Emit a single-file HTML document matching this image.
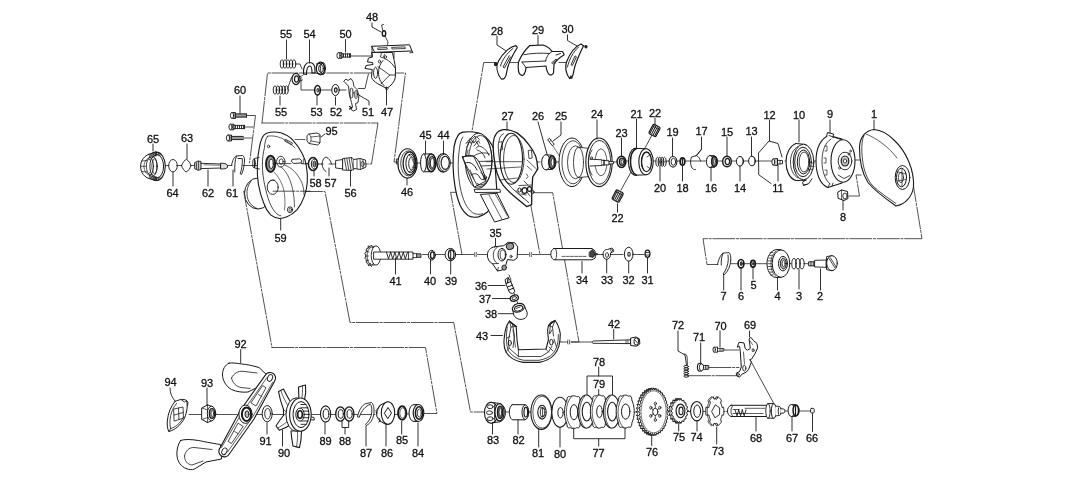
<!DOCTYPE html>
<html><head><meta charset="utf-8"><title>Parts diagram</title>
<style>html,body{margin:0;padding:0;background:#fff}svg{display:block;will-change:transform}
text{font-family:"Liberation Sans",sans-serif;font-size:11.6px;fill:#111;stroke:#111;stroke-width:.3px;text-anchor:middle}</style></head>
<body><svg width="1069" height="490" viewBox="0 0 1069 490" fill="none" stroke="#1a1a1a" stroke-width="1" stroke-linecap="round" stroke-linejoin="round">
<rect x="0" y="0" width="1069" height="490" fill="#fff" stroke="none"/>
<polyline points="262,123 267.5,73 405.5,73 394,162 399,162" stroke-width="0.75" stroke-dasharray="22 1.6 2.2 1.6"/>
<polyline points="262,123 378,123 371.5,164 366,164" stroke-width="0.75" stroke-dasharray="22 1.6 2.2 1.6"/>
<polyline points="247,115.5 255.5,115.5 249.5,163" stroke-width="0.75" stroke-dasharray="22 1.6 2.2 1.6"/>
<polyline points="245,127 253,127" stroke-width="0.75" stroke-dasharray="22 1.6 2.2 1.6"/>
<polyline points="244,138 251.5,138" stroke-width="0.75" stroke-dasharray="22 1.6 2.2 1.6"/>
<polyline points="165,165.5 169,165.5" stroke-width="0.75" stroke-dasharray="22 1.6 2.2 1.6"/>
<polyline points="177,165.5 181.5,165.5" stroke-width="0.75" stroke-dasharray="22 1.6 2.2 1.6"/>
<polyline points="190.5,165.5 195,165.5" stroke-width="0.75" stroke-dasharray="22 1.6 2.2 1.6"/>
<polyline points="227,165.5 232,165.5" stroke-width="0.75" stroke-dasharray="22 1.6 2.2 1.6"/>
<polyline points="243,165.5 262,165.5" stroke-width="0.75" stroke-dasharray="22 1.6 2.2 1.6"/>
<polyline points="276,163.5 308,163.5" stroke-width="0.75" stroke-dasharray="22 1.6 2.2 1.6"/>
<polyline points="318,164 323,164" stroke-width="0.75" stroke-dasharray="22 1.6 2.2 1.6"/>
<polyline points="329,164 336,164" stroke-width="0.75" stroke-dasharray="22 1.6 2.2 1.6"/>
<polyline points="250,191.2 243.7,191.2 272,347.5" stroke-width="0.75" stroke-dasharray="22 1.6 2.2 1.6"/>
<polyline points="273,191.5 325,191.5 350,322.5 453.7,322.5 470.5,412 484,412" stroke-width="0.75" stroke-dasharray="22 1.6 2.2 1.6"/>
<polyline points="272,347.5 425.5,347.5 437,413.5 424.5,413.5" stroke-width="0.75" stroke-dasharray="22 1.6 2.2 1.6"/>
<polyline points="496,62.5 483.7,62.5 470.5,140" stroke-width="0.75" stroke-dasharray="22 1.6 2.2 1.6"/>
<polyline points="510,62.5 520,62.5" stroke-width="0.75" stroke-dasharray="22 1.6 2.2 1.6"/>
<polyline points="559,62.5 568,62.5" stroke-width="0.75" stroke-dasharray="22 1.6 2.2 1.6"/>
<polyline points="461.8,192.3 450.6,192.3 462,254.5" stroke-width="0.75" stroke-dasharray="22 1.6 2.2 1.6"/>
<polyline points="533.6,192.7 552.7,192.7 579,342 571,342" stroke-width="0.75" stroke-dasharray="22 1.6 2.2 1.6"/>
<polyline points="530,201 540,254.5" stroke-width="0.75" stroke-dasharray="22 1.6 2.2 1.6"/>
<polyline points="410,163 420.5,163" stroke-width="0.75" stroke-dasharray="22 1.6 2.2 1.6"/>
<polyline points="436,163 438,163" stroke-width="0.75" stroke-dasharray="22 1.6 2.2 1.6"/>
<polyline points="451,163 456,163" stroke-width="0.75" stroke-dasharray="22 1.6 2.2 1.6"/>
<polyline points="495,162 540,162" stroke-width="0.75" stroke-dasharray="22 1.6 2.2 1.6"/>
<polyline points="556,162 560,162" stroke-width="0.75" stroke-dasharray="22 1.6 2.2 1.6"/>
<polyline points="605,162 617,162" stroke-width="0.75" stroke-dasharray="22 1.6 2.2 1.6"/>
<polyline points="627,161 631,161" stroke-width="0.75" stroke-dasharray="22 1.6 2.2 1.6"/>
<polyline points="652,161 656,161" stroke-width="0.75" stroke-dasharray="22 1.6 2.2 1.6"/>
<polyline points="666,161 669,161" stroke-width="0.75" stroke-dasharray="22 1.6 2.2 1.6"/>
<polyline points="677,161 680,161" stroke-width="0.75" stroke-dasharray="22 1.6 2.2 1.6"/>
<polyline points="685,161 706,161" stroke-width="0.75" stroke-dasharray="22 1.6 2.2 1.6"/>
<polyline points="717,161 722,161" stroke-width="0.75" stroke-dasharray="22 1.6 2.2 1.6"/>
<polyline points="732,161 736,161" stroke-width="0.75" stroke-dasharray="22 1.6 2.2 1.6"/>
<polyline points="744,161 748,161" stroke-width="0.75" stroke-dasharray="22 1.6 2.2 1.6"/>
<polyline points="756,161 773,161" stroke-width="0.75" stroke-dasharray="22 1.6 2.2 1.6"/>
<polyline points="785,161 800,161" stroke-width="0.75" stroke-dasharray="22 1.6 2.2 1.6"/>
<polyline points="812,161 845,161" stroke-width="0.75" stroke-dasharray="22 1.6 2.2 1.6"/>
<polyline points="848,160 862,160" stroke-width="0.75" stroke-dasharray="22 1.6 2.2 1.6"/>
<polyline points="652,135 645,148" stroke-width="0.8"/>
<polyline points="631,172 621,190" stroke-width="0.8"/>
<polyline points="849,196 859.5,196 856,175 861,175" stroke-width="0.75" stroke-dasharray="22 1.6 2.2 1.6"/>
<polyline points="912.5,180 922,238.7 703,238.7 707,264.5 718,264.5" stroke-width="0.75" stroke-dasharray="22 1.6 2.2 1.6"/>
<polyline points="731,263.7 738,263.7" stroke-width="0.75" stroke-dasharray="22 1.6 2.2 1.6"/>
<polyline points="744,263.7 750.5,263.7" stroke-width="0.75" stroke-dasharray="22 1.6 2.2 1.6"/>
<polyline points="755.5,263.7 768,263.7" stroke-width="0.75" stroke-dasharray="22 1.6 2.2 1.6"/>
<polyline points="786,263.7 791,263.7" stroke-width="0.75" stroke-dasharray="22 1.6 2.2 1.6"/>
<polyline points="805,263.7 810,263.7" stroke-width="0.75" stroke-dasharray="22 1.6 2.2 1.6"/>
<polyline points="422.5,254.5 429.5,254.5" stroke-width="0.75" stroke-dasharray="22 1.6 2.2 1.6"/>
<polyline points="435.5,254.5 445,254.5" stroke-width="0.75" stroke-dasharray="22 1.6 2.2 1.6"/>
<polyline points="455,254.5 473.5,254.5" stroke-width="0.75" stroke-dasharray="22 1.6 2.2 1.6"/>
<polyline points="477.5,254.5 488,254.5" stroke-width="0.75" stroke-dasharray="22 1.6 2.2 1.6"/>
<polyline points="512,254.5 528.5,254.5" stroke-width="0.75" stroke-dasharray="22 1.6 2.2 1.6"/>
<polyline points="532.5,254.5 551,254.5" stroke-width="0.75" stroke-dasharray="22 1.6 2.2 1.6"/>
<polyline points="595,254.5 603,254.5" stroke-width="0.75" stroke-dasharray="22 1.6 2.2 1.6"/>
<polyline points="611,254.5 623,254.5" stroke-width="0.75" stroke-dasharray="22 1.6 2.2 1.6"/>
<polyline points="632,254.5 644,254.5" stroke-width="0.75" stroke-dasharray="22 1.6 2.2 1.6"/>
<path d="M474.7,252.5 q-1,2 0,4 M476.5,252.5 q-1,2 0,4" stroke-width="0.7"/>
<path d="M529.7,252.5 q-1,2 0,4 M531.5,252.5 q-1,2 0,4" stroke-width="0.7"/>
<polyline points="509,275 511,280" stroke-width="0.8"/>
<polyline points="514,293 515,295.5" stroke-width="0.8"/>
<polyline points="516.5,300 518.5,305" stroke-width="0.8"/>
<polyline points="551,342 566.5,342" stroke-width="0.75" stroke-dasharray="22 1.6 2.2 1.6"/>
<path d="M567.8,340 q-1,2 0,4 M569.6,340 q-1,2 0,4" stroke-width="0.7"/>
<polyline points="592.5,342 571,342" stroke-width="0.75" stroke-dasharray="22 1.6 2.2 1.6"/>
<polyline points="724,350 739,350" stroke-width="0.75" stroke-dasharray="22 1.6 2.2 1.6"/>
<polyline points="709,367.5 739,367.5" stroke-width="0.75" stroke-dasharray="22 1.6 2.2 1.6"/>
<polyline points="688.5,375.7 736,375.7" stroke-width="0.75" stroke-dasharray="22 1.6 2.2 1.6"/>
<polyline points="749.5,358.7 776,407.5" stroke-width="0.8"/>
<polyline points="506,412 510,412" stroke-width="0.75" stroke-dasharray="22 1.6 2.2 1.6"/>
<polyline points="529,412 545,412" stroke-width="0.75" stroke-dasharray="22 1.6 2.2 1.6"/>
<polyline points="630,412 665,412" stroke-width="0.75" stroke-dasharray="22 1.6 2.2 1.6"/>
<polyline points="686,411.5 691,411.5" stroke-width="0.75" stroke-dasharray="22 1.6 2.2 1.6"/>
<polyline points="703,411.5 728,411.5" stroke-width="0.75" stroke-dasharray="22 1.6 2.2 1.6"/>
<polyline points="785,411 789,411" stroke-width="0.75" stroke-dasharray="22 1.6 2.2 1.6"/>
<polyline points="800,411 811,411" stroke-width="0.75" stroke-dasharray="22 1.6 2.2 1.6"/>
<polyline points="189,414.5 202,414.5" stroke-width="0.75" stroke-dasharray="22 1.6 2.2 1.6"/>
<polyline points="215,414.5 262,414.5" stroke-width="0.75" stroke-dasharray="22 1.6 2.2 1.6"/>
<polyline points="272,414.5 290,414.5" stroke-width="0.75" stroke-dasharray="22 1.6 2.2 1.6"/>
<polyline points="311,414.5 320,414.5" stroke-width="0.75" stroke-dasharray="22 1.6 2.2 1.6"/>
<polyline points="331,414.5 336,414.5" stroke-width="0.75" stroke-dasharray="22 1.6 2.2 1.6"/>
<polyline points="353,414.5 376,414.5" stroke-width="0.75" stroke-dasharray="22 1.6 2.2 1.6"/>
<polyline points="394,414.5 397.5,414.5" stroke-width="0.75" stroke-dasharray="22 1.6 2.2 1.6"/>
<polyline points="406,414 412,414" stroke-width="0.75" stroke-dasharray="22 1.6 2.2 1.6"/>
<ellipse cx="282" cy="64" rx="1.8" ry="4.3" stroke-width="0.9"/>
<ellipse cx="285" cy="64" rx="1.8" ry="4.3" stroke-width="0.9"/>
<ellipse cx="288" cy="64" rx="1.8" ry="4.3" stroke-width="0.9"/>
<ellipse cx="291" cy="64" rx="1.8" ry="4.3" stroke-width="0.9"/>
<ellipse cx="294" cy="64" rx="1.8" ry="4.3" stroke-width="0.9"/>
<polyline points="296,64 300,64 302,69" stroke-width="0.8"/>
<ellipse cx="275" cy="90" rx="1.8" ry="4.2" stroke-width="0.9"/>
<ellipse cx="277.9" cy="90" rx="1.8" ry="4.2" stroke-width="0.9"/>
<ellipse cx="280.8" cy="90" rx="1.8" ry="4.2" stroke-width="0.9"/>
<ellipse cx="283.6" cy="90" rx="1.8" ry="4.2" stroke-width="0.9"/>
<ellipse cx="286.5" cy="90" rx="1.8" ry="4.2" stroke-width="0.9"/>
<polyline points="291.5,77.5 287.5,89" stroke-width="0.8"/>
<ellipse cx="296" cy="79" rx="4" ry="5.6" stroke-width="1.2" fill="#fff"/>
<ellipse cx="296.5" cy="79" rx="2" ry="3.2" stroke-width="1.2"/>
<path d="M299.5,77 l3,-1.5 M299.5,81 l3,-1" stroke-width="0.8"/>
<path d="M303.5,74 C303,66 306,62.5 309.5,62.5 C313,62.5 315,65 315,70 L315,73 M306.5,74.5 C306.5,68.5 308,66 310,66 C311.5,66 312,68 312,73" stroke-width="1.1"/>
<path d="M303.5,74 l3,.5 M312,73 l3,0"/>
<ellipse cx="320.5" cy="68.5" rx="4.2" ry="6.3" stroke-width="1.2" fill="#fff"/>
<ellipse cx="321" cy="68.5" rx="2.3" ry="4"/>
<path d="M316.5,64 l6,-1 M317,73.5 l6,0.8"/>
<ellipse cx="323" cy="68.5" rx="2.5" ry="6" stroke-width="0.9"/>
<polyline points="301,77.5 301,90 313.7,90" stroke-width="0.8"/>
<polyline points="321,90 331.5,90" stroke-width="0.8"/>
<polyline points="339.5,90 346,90" stroke-width="0.8"/>
<polyline points="358.3,88.5 365,88.5 368.4,74" stroke-width="0.8"/>
<ellipse cx="317.5" cy="90.3" rx="2.8" ry="4.8" stroke-width="1.6" fill="#fff"/>
<ellipse cx="318" cy="90.3" rx="1" ry="2"/>
<ellipse cx="335.5" cy="90" rx="3.7" ry="5.6" fill="#fff"/>
<ellipse cx="335.8" cy="90" rx="1.3" ry="2.2" stroke-width="1.2"/>
<path d="M344,81 l2,-2 l2,1.5 l3,-2 l2,3 l1,5 l3,3 l2,6 l-1,7 l-2.5,1 l1,6 l-3,1.5 l-2.5,-1.5 l1.5,-2.5 l-1,-4.5 l-2,-7 l-1,-9 z" stroke-width="0.9" fill="#fff"/>
<ellipse cx="351.5" cy="93" rx="1.6" ry="5.2" stroke-width="0.9"/>
<ellipse cx="356" cy="94.5" rx="1.3" ry="4.2" stroke-width="0.9"/>
<path d="M349.5,106.5 l2,1 l-2,1.5" stroke-width="1.2"/>
<path d="M338.5,52.7 h3.5 v5.6 h-3.5 z" stroke-width="0.9" fill="#999"/>
<ellipse cx="338.5" cy="55.5" rx="1.6" ry="2.8" stroke-width="0.9" fill="#fff"/>
<path d="M342,53.9 h8.5 M342,57.1 h8.5" stroke-width="0.9"/>
<line x1="343.5" y1="53.9" x2="343.5" y2="57.1" stroke-width="0.9"/>
<line x1="345.5" y1="53.9" x2="345.5" y2="57.1" stroke-width="0.9"/>
<line x1="347.5" y1="53.9" x2="347.5" y2="57.1" stroke-width="0.9"/>
<line x1="349.5" y1="53.9" x2="349.5" y2="57.1" stroke-width="0.9"/>
<line x1="350.5" y1="53.9" x2="350.5" y2="57.1" stroke-width="0.9"/>
<polyline points="351,56 372,56" stroke-width="0.8"/>
<ellipse cx="384" cy="33.5" rx="1.7" ry="2.8" stroke-width="1.4"/>
<path d="M383,31 L381.5,25 L383.5,24.5 M385,36 L388,42 L387.5,45" stroke-width="0.8"/>
<path d="M372,57 L368.4,58.2 L367.5,62 L372.5,62.5 L373,64.5 L366,65.5 L365,68.5 L372.2,69.5 L371.5,77.3 C373,80.5 375,82 377.4,83.5 L386.4,88.3 C391,86 394.5,82 395.3,77.3 L395.5,68.3 C395,63 393.5,58 392.5,52.5 L372,52.5 Z" fill="#fff"/>
<path d="M384,58.5 C388,59.5 392,63 395.3,68.3 M383,60.5 C380,63.5 378.5,68 378.5,73 C378.5,78 380.5,82.5 384,85.5" stroke-width="0.9"/>
<path d="M377.8,66.5 L389.7,75 L381,84 M389.7,75 L395.5,75" stroke-width="0.8"/>
<path d="M394,52.5 L394,58 M381.5,52.5 l-1,4.5 l2.5,1 l1.5,-3.5" stroke-width="0.8"/>
<ellipse cx="375.6" cy="72.8" rx="2" ry="5.6" stroke-width="0.9" fill="#fff"/>
<ellipse cx="379.5" cy="61.5" rx="1.1" ry="1.5" stroke-width="0.8"/>
<ellipse cx="385.5" cy="57" rx="1.1" ry="1.4" stroke-width="0.8"/>
<path d="M372,46.3 L409.5,44.8 L412,51 L375,52.3 Z" fill="#fff"/>
<path d="M378,48 l9,-.4 l.3,1.6 l-9,.4 z M392,47.4 l13,-.5 l.4,1.6 l-13,.5 z" stroke-width="0.8"/>
<path d="M412,51 l1,1.5 l-3,.3 M372,46.3 L372,57" stroke-width="0.9"/>
<path d="M385.5,87.5 l1,3 l2,-2.5" stroke-width="0.8"/>
<ellipse cx="156.3" cy="166.3" rx="9" ry="14.2" stroke-width="1.1" fill="#fff"/>
<path d="M149.6,154 C144.5,155.5 140.6,160.5 140.6,166.3 C140.6,172.5 144.5,177.5 149.6,178.7 L156,180.4 L156,152.2 Z" fill="#fff"/>
<ellipse cx="157" cy="166.3" rx="6.6" ry="11.6" fill="#fff"/>
<line x1="148.5" y1="159.2" x2="151.1" y2="160.4" stroke-width="0.8"/>
<line x1="149.6" y1="156.8" x2="151.9" y2="158.4" stroke-width="0.8"/>
<line x1="151" y1="154.8" x2="153" y2="156.8" stroke-width="0.8"/>
<line x1="152.6" y1="153.3" x2="154.2" y2="155.5" stroke-width="0.8"/>
<line x1="154.4" y1="152.4" x2="155.6" y2="154.8" stroke-width="0.8"/>
<line x1="156.3" y1="152.1" x2="157" y2="154.5" stroke-width="0.8"/>
<line x1="158.2" y1="152.4" x2="158.4" y2="154.8" stroke-width="0.8"/>
<line x1="160" y1="153.3" x2="159.8" y2="155.5" stroke-width="0.8"/>
<line x1="160" y1="179.3" x2="159.8" y2="177.1" stroke-width="0.8"/>
<line x1="158.2" y1="180.2" x2="158.4" y2="177.8" stroke-width="0.8"/>
<line x1="156.3" y1="180.5" x2="157" y2="178.1" stroke-width="0.8"/>
<line x1="154.4" y1="180.2" x2="155.6" y2="177.8" stroke-width="0.8"/>
<line x1="152.6" y1="179.3" x2="154.2" y2="177.1" stroke-width="0.8"/>
<line x1="151" y1="177.8" x2="153" y2="175.8" stroke-width="0.8"/>
<line x1="149.6" y1="175.8" x2="151.9" y2="174.2" stroke-width="0.8"/>
<line x1="148.5" y1="173.4" x2="151.1" y2="172.2" stroke-width="0.8"/>
<line x1="149.2" y1="154.2" x2="149.5" y2="157.3" stroke-width="0.6"/>
<line x1="149.2" y1="178.5" x2="149.5" y2="175.4" stroke-width="0.6"/>
<line x1="150.2" y1="153.9" x2="150.5" y2="157.1" stroke-width="0.6"/>
<line x1="150.2" y1="178.8" x2="150.5" y2="175.6" stroke-width="0.6"/>
<line x1="151.2" y1="153.7" x2="151.5" y2="156.9" stroke-width="0.6"/>
<line x1="151.2" y1="179" x2="151.5" y2="175.8" stroke-width="0.6"/>
<line x1="152.2" y1="153.4" x2="152.5" y2="156.7" stroke-width="0.6"/>
<line x1="152.2" y1="179.2" x2="152.5" y2="176" stroke-width="0.6"/>
<line x1="153.2" y1="153.2" x2="153.5" y2="156.5" stroke-width="0.6"/>
<line x1="153.2" y1="179.5" x2="153.5" y2="176.2" stroke-width="0.6"/>
<line x1="154.2" y1="152.9" x2="154.5" y2="156.3" stroke-width="0.6"/>
<line x1="154.2" y1="179.8" x2="154.5" y2="176.4" stroke-width="0.6"/>
<line x1="155.2" y1="152.7" x2="155.5" y2="156.1" stroke-width="0.6"/>
<line x1="155.2" y1="180" x2="155.5" y2="176.6" stroke-width="0.6"/>
<line x1="156.2" y1="152.4" x2="156.5" y2="155.9" stroke-width="0.6"/>
<line x1="156.2" y1="180.2" x2="156.5" y2="176.8" stroke-width="0.6"/>
<path d="M149.8,157.3 C146,159 144,162.5 144,166.3 C144,170.5 146,174 149.8,175.5 M142,161 l5,-.5 M141,166.3 l5,0 M142,171.5 l5,.5" stroke-width="0.7"/>
<ellipse cx="153.5" cy="166.3" rx="3.6" ry="9.2" stroke-width="0.9" fill="#fff"/>
<ellipse cx="154.5" cy="166.3" rx="2.6" ry="7.4" stroke-width="0.8"/>
<ellipse cx="150" cy="166.3" rx="3.6" ry="8.6" stroke-width="0.8"/>
<ellipse cx="173" cy="165.7" rx="4.3" ry="6.2" stroke-width="0.9"/>
<path d="M181.5,165.7 C183,162 184.5,160 186.5,159.5 C189,161 190.5,163.5 191,165.7 C190,168.5 188.5,171 186,172 C184,170.5 182.5,168.5 181.5,165.7 Z" stroke-width="0.9"/>
<path d="M195,162.5 l3,-1.5 l3,.5 l0,8 l-3,.8 l-3,-1.5 z" stroke-width="0.9" fill="#ccc"/>
<path d="M196.5,163 l0,6 M198.5,161.5 l0,8" stroke-width="0.7"/>
<path d="M201,163.3 L221,164 L221,168 L201,168.6" stroke-width="0.9"/>
<path d="M204,164.8 L220,165.3" stroke-width="0.6"/>
<path d="M221,163.2 l4,.3 l2.5,1.5 l0,2.5 l-2.5,1.3 l-4,0.2 z" stroke-width="0.9" fill="#ddd"/>
<path d="M231.5,165.5 C232.5,160.5 234,157 236.5,156 L242.5,155.5 C244,156 244.5,158 244.5,160 M236.5,156 C235,160 234.5,166 234.8,172 M244.5,160 C244.5,165 243.5,170 241.5,174.5 L240.2,173.8 C241.8,169.5 242.5,164 242.3,158.5 L238,158.5" stroke-width="0.9"/>
<path d="M232,112.5 h3.5 v6 h-3.5 z" stroke-width="0.9" fill="#999"/>
<ellipse cx="232" cy="115.5" rx="1.6" ry="3" stroke-width="0.9" fill="#fff"/>
<path d="M235.5,113.9 h11 M235.5,117.1 h11" stroke-width="0.9"/>
<line x1="237" y1="113.9" x2="237" y2="117.1" stroke-width="0.9"/>
<line x1="239" y1="113.9" x2="239" y2="117.1" stroke-width="0.9"/>
<line x1="241" y1="113.9" x2="241" y2="117.1" stroke-width="0.9"/>
<line x1="243" y1="113.9" x2="243" y2="117.1" stroke-width="0.9"/>
<line x1="245" y1="113.9" x2="245" y2="117.1" stroke-width="0.9"/>
<line x1="246.5" y1="113.9" x2="246.5" y2="117.1" stroke-width="0.9"/>
<path d="M230.5,124.2 h3.5 v5.6 h-3.5 z" stroke-width="0.9" fill="#999"/>
<ellipse cx="230.5" cy="127" rx="1.6" ry="2.8" stroke-width="0.9" fill="#fff"/>
<path d="M234,125.4 h10.5 M234,128.6 h10.5" stroke-width="0.9"/>
<line x1="235.5" y1="125.4" x2="235.5" y2="128.6" stroke-width="0.9"/>
<line x1="237.5" y1="125.4" x2="237.5" y2="128.6" stroke-width="0.9"/>
<line x1="239.5" y1="125.4" x2="239.5" y2="128.6" stroke-width="0.9"/>
<line x1="241.5" y1="125.4" x2="241.5" y2="128.6" stroke-width="0.9"/>
<line x1="243.5" y1="125.4" x2="243.5" y2="128.6" stroke-width="0.9"/>
<line x1="244.5" y1="125.4" x2="244.5" y2="128.6" stroke-width="0.9"/>
<path d="M228,135 h3.5 v6 h-3.5 z" stroke-width="0.9" fill="#999"/>
<ellipse cx="228" cy="138" rx="1.6" ry="3" stroke-width="0.9" fill="#fff"/>
<path d="M231.5,136.4 h11.5 M231.5,139.6 h11.5" stroke-width="0.9"/>
<line x1="233" y1="136.4" x2="233" y2="139.6" stroke-width="0.9"/>
<line x1="235" y1="136.4" x2="235" y2="139.6" stroke-width="0.9"/>
<line x1="237" y1="136.4" x2="237" y2="139.6" stroke-width="0.9"/>
<line x1="239" y1="136.4" x2="239" y2="139.6" stroke-width="0.9"/>
<line x1="241" y1="136.4" x2="241" y2="139.6" stroke-width="0.9"/>
<line x1="243" y1="136.4" x2="243" y2="139.6" stroke-width="0.9"/>
<ellipse cx="258" cy="193.5" rx="13.5" ry="15.5" fill="#fff"/>
<path d="M251,181 C248,185 246.5,190 247,195 C247.5,201 251,206 257,208.5" stroke-width="0.8"/>
<path d="M266.5,133.2 C272,131.5 277,131.8 280.8,132.8 C286,134.5 290,137 293,140.3 C297,144.5 300,149 302.2,153.6 C304.5,158 305.8,162 306.3,165.8 C307.3,171 307.6,177 307.3,182.1 C307,187 305.8,192 304.3,196.4 C302.5,201.5 300,206 297.1,209.7 C294,213 290.5,215.5 287,216.8 C284.5,217.8 282,218.5 279.8,218.5 C276,218 273,216.8 270.6,214.8 C267.5,211.5 265,207 263.5,202.5 C261,196.5 259.5,190.5 258.4,184.2 C257.5,178 257.1,172 257.3,165.8 C257.5,159.5 258.2,153 259.4,147.4 C260,143.5 261,140 262.4,137.2 C263.5,135 265,133.8 266.5,133.2 Z" stroke-width="1.1" fill="#fff"/>
<path d="M267.5,136.2 C265.5,139 264.8,143 264.5,147.4 C263,153.5 262.3,159.5 262.4,165.8 C262.5,172 263.2,178 264.5,184.2 C265.8,190.5 267.5,197 269.6,202.5 C271.3,206.5 273.3,210 275.7,212.8 C277.3,214.5 279,215.5 280.8,215.8" stroke-width="0.8"/>
<path d="M267.5,136.2 C276,134.5 287,139 295,148" stroke-width="0.7"/>
<ellipse cx="270.6" cy="163.8" rx="4.6" ry="8.2" stroke-width="1.9" fill="#999"/>
<ellipse cx="271.2" cy="163.8" rx="2.1" ry="4.6" fill="#fff"/>
<ellipse cx="280.8" cy="161.7" rx="4.2" ry="5.4" stroke-width="0.9" fill="#fff"/>
<ellipse cx="281.2" cy="161.7" rx="2" ry="2.8" stroke-width="0.8"/>
<path d="M292.5,159.3 l7,-.4 l2,1.5 l-.3,2.5 l-7.5,.6 l-2,-1.8 z" stroke-width="0.9" fill="#fff"/>
<path d="M301.3,163.5 l2,0 l0,-4.5" stroke-width="0.7"/>
<ellipse cx="272.7" cy="187.2" rx="5.5" ry="7.2" stroke-width="0.9"/>
<path d="M268.5,183 C269.5,180.5 272,179.5 274.5,180.3" stroke-width="0.7"/>
<path d="M280.8,166.5 C286,171 290,178 292,186.5 C293.8,194 294.5,201 294.5,207" stroke-width="0.7"/>
<path d="M284.5,165 C292,167.5 298,174 302,183 C303.5,187 304,191 304,195" stroke-width="0.7"/>
<path d="M274,172 C278,176 281,181 283,187 C285,194 285.5,202 284.5,210" stroke-width="0.6"/>
<path d="M286,139.5 l6.5,3.5 l-1,1.8 l-6.5,-3.5 z" stroke-width="0.8"/>
<ellipse cx="268.6" cy="146.4" rx="1.2" ry="1.4" stroke-width="0.8"/>
<ellipse cx="290" cy="209.7" rx="2.6" ry="2.9" stroke-width="0.9"/>
<ellipse cx="290.3" cy="209.7" rx="1.2" ry="1.5" stroke-width="0.7"/>
<path d="M259,157.5 l-4.5,1 l0,9.5 l5,1" stroke-width="0.9"/>
<ellipse cx="254" cy="163.3" rx="1.3" ry="4.6" stroke-width="0.9"/>
<path d="M309,134 L317,133 L320,134.5 L320,143 L317.5,145 L309,143.5 L307,141 L307,136 Z" stroke-width="0.9" fill="#fff"/>
<path d="M309,134 L311,137 L311,141 L309,143.5 M311,137 L320,136 M311,141 L319.5,142.5" stroke-width="0.7"/>
<polyline points="305,139.5 295,139.5" stroke-width="0.7"/>
<ellipse cx="313" cy="164" rx="4.6" ry="6.4" stroke-width="1.5" fill="#fff"/>
<ellipse cx="314.5" cy="164" rx="3.2" ry="5"/>
<ellipse cx="314.5" cy="164" rx="1.6" ry="3" stroke-width="0.8" fill="#888"/>
<path d="M322,164 C322.5,160 324,157.5 326,157 C329,158.5 331,161 331.5,164 M322,164 C322.5,168 324,170.5 326,171.5" stroke-width="0.9"/>
<path d="M336,160.5 L343,159.5 L343,169 L336,168 Z" stroke-width="0.9" fill="#fff"/>
<path d="M343,158.5 L352,157.5 L354,160 L354,168.5 L352,170.5 L343,170 Z" stroke-width="0.9" fill="#fff"/>
<line x1="344.5" y1="158.8" x2="346.5" y2="170" stroke-width="0.8"/>
<line x1="346.8" y1="158.6" x2="348.8" y2="170" stroke-width="0.8"/>
<line x1="349.1" y1="158.4" x2="351.1" y2="170" stroke-width="0.8"/>
<line x1="351.4" y1="158.2" x2="353.4" y2="170" stroke-width="0.8"/>
<path d="M354,159.5 L360,158.5 L365.5,160 L366,167 L360.5,169.5 L354,168.5" stroke-width="0.9" fill="#fff"/>
<path d="M357,159 l0,10 M360,158.5 l.5,11 M363,159.5 l0,9" stroke-width="0.7"/>
<ellipse cx="362.5" cy="164" rx="1.7" ry="2.6" stroke-width="0.8"/>
<ellipse cx="407.5" cy="163.4" rx="9.6" ry="14.7" stroke-width="1.1" fill="#fff"/>
<ellipse cx="408.5" cy="163.4" rx="7.8" ry="12.6" stroke-width="0.8"/>
<ellipse cx="409.5" cy="163.4" rx="6.4" ry="11.5" stroke-width="1.3" fill="#fff"/>
<ellipse cx="410.5" cy="163.4" rx="4.6" ry="9.2"/>
<ellipse cx="411.5" cy="163.6" rx="2.8" ry="6.4" stroke-width="0.9"/>
<path d="M409,155 l3,2 M409,172 l3,-2 M412,159 l2,4 M412,168 l2,-3" stroke-width="0.7"/>
<path d="M398,159 l-1.6,0 l0,5 l1.6,0" stroke-width="0.9"/>
<path d="M423.5,154 L431.3,153.9 C434,155 436,158.5 436,162.8 C436,167 434,170.8 431.3,171.7 L423.5,171.8" fill="#fff"/>
<ellipse cx="423.5" cy="162.9" rx="2.9" ry="8.9" fill="#fff"/>
<ellipse cx="431.3" cy="162.8" rx="4.5" ry="8.8" stroke-width="1.6" fill="#fff"/>
<ellipse cx="431.8" cy="162.8" rx="3" ry="6.6" fill="#999"/>
<ellipse cx="432.3" cy="163" rx="2" ry="4.8" stroke-width="0.9" fill="#fff"/>
<ellipse cx="443.2" cy="162.8" rx="6.3" ry="9.2" stroke-width="1.3" fill="#fff"/>
<ellipse cx="444.6" cy="162.8" rx="5.8" ry="8.6" stroke-width="0.9" fill="#fff"/>
<ellipse cx="445.2" cy="162.8" rx="4.1" ry="6.6" stroke-width="1.1" fill="#fff"/>
<path d="M546,154.8 L552,155.2 C554.5,156.5 556,159 556,162.2 C556,165.5 554.5,168.5 552,169.3 L546,169.8" fill="#fff"/>
<ellipse cx="546" cy="162.3" rx="4.3" ry="7.6" fill="#fff"/>
<ellipse cx="552" cy="162.3" rx="3.2" ry="6.6" stroke-width="1.6" fill="#777"/>
<ellipse cx="552.6" cy="162.3" rx="1.5" ry="3.6" stroke-width="0.8" fill="#fff"/>
<path d="M548,139.5 l1.6,-1.2 l4.6,6 l-1.6,1.2 z" stroke-width="0.9" fill="#fff"/>
<line x1="549.5" y1="141.5" x2="551" y2="140.3" stroke-width="0.6"/>
<polyline points="553,146 560,157" stroke-width="0.6"/>
<ellipse cx="572" cy="162.3" rx="13" ry="24.3" fill="#fff"/>
<ellipse cx="573" cy="162.3" rx="11" ry="21.5" stroke-width="0.8"/>
<ellipse cx="575.5" cy="162.3" rx="8" ry="16.5" stroke-width="0.8"/>
<path d="M578,147.3 L591,148.5 L591,176.5 L578,177.5" stroke-width="0.8" fill="#fff"/>
<ellipse cx="578.5" cy="162.3" rx="5" ry="15" stroke-width="0.8"/>
<ellipse cx="599" cy="162.3" rx="13.2" ry="24.3" stroke-width="1.1" fill="#fff"/>
<ellipse cx="599.5" cy="162.3" rx="11.2" ry="21.8" stroke-width="0.9"/>
<path d="M592,150 C589.5,154 588.5,158 588.5,162.3 C588.5,167 589.5,171 592,175" stroke-width="0.8"/>
<ellipse cx="601" cy="162.3" rx="6" ry="13.5" stroke-width="0.7"/>
<path d="M590,159.2 L602,159.8 L602,165.5 L590,166" stroke-width="0.9" fill="#fff"/>
<path d="M602,160.3 L609,160.8 L609,164.8 L602,165 M609,161.5 L613.5,161.7 L613.5,163.8 L609,164" stroke-width="0.9" fill="#fff"/>
<ellipse cx="591.5" cy="158" rx="1" ry="1.2" stroke-width="0.8"/>
<line x1="604" y1="160.3" x2="604" y2="165" stroke-width="1.4"/>
<ellipse cx="621.5" cy="161.8" rx="4.4" ry="5.6" stroke-width="1.5" fill="#fff"/>
<ellipse cx="622" cy="161.8" rx="2.6" ry="3.6" stroke-width="1.2" fill="#aaa"/>
<ellipse cx="622.3" cy="161.8" rx="1.2" ry="2" stroke-width="0.7" fill="#fff"/>
<path d="M634.5,148.3 L646,148.8 L646,174.8 L634.5,175.3 C631,174 628.5,168.5 628.5,161.8 C628.5,155 631,149.5 634.5,148.3 Z" stroke-width="1.1" fill="#fff"/>
<path d="M636.5,148.5 C633,150 630.5,155 630.5,161.8 C630.5,168.5 633,174 636.5,175.2" stroke-width="1.5"/>
<ellipse cx="646" cy="161.8" rx="7.2" ry="13" stroke-width="1.1" fill="#fff"/>
<ellipse cx="646.5" cy="161.8" rx="5" ry="9.8" stroke-width="1.3"/>
<path d="M644,153 C642,156 641.5,159 641.5,161.8 C641.5,165 642.3,168 644,170.5" stroke-width="0.8"/>
<path d="M647,157 l3.5,-2.5 M647,166.5 l3.5,2.5" stroke-width="0.7"/>
<g transform="rotate(28 654.5 130.5)">
<rect x="650.5" y="125.2" width="8" height="10.5" rx="1.5" fill="#fff" stroke-width="1.2"/>
<line x1="651.8" y1="126.2" x2="651.8" y2="134.8"/>
<line x1="653.6" y1="126.2" x2="653.6" y2="134.8"/>
<line x1="655.4" y1="126.2" x2="655.4" y2="134.8"/>
<line x1="657.2" y1="126.2" x2="657.2" y2="134.8"/>
<line x1="650.5" y1="127.5" x2="658.5" y2="127.5" stroke-width="0.7"/>
</g>
<g transform="rotate(28 617.7 196)">
<rect x="613.7" y="190.8" width="8" height="10.5" rx="1.5" fill="#fff" stroke-width="1.2"/>
<line x1="615" y1="191.8" x2="615" y2="200.2"/>
<line x1="616.8" y1="191.8" x2="616.8" y2="200.2"/>
<line x1="618.6" y1="191.8" x2="618.6" y2="200.2"/>
<line x1="620.4" y1="191.8" x2="620.4" y2="200.2"/>
<line x1="613.7" y1="192.9" x2="621.7" y2="192.9" stroke-width="0.7"/>
</g>
<ellipse cx="657.5" cy="161.8" rx="1.7" ry="4.6" stroke-width="0.9"/>
<ellipse cx="659.8" cy="161.8" rx="1.7" ry="4.6" stroke-width="0.9"/>
<ellipse cx="662.2" cy="161.8" rx="1.7" ry="4.6" stroke-width="0.9"/>
<ellipse cx="664.5" cy="161.8" rx="1.7" ry="4.6" stroke-width="0.9"/>
<ellipse cx="673" cy="161.8" rx="3.9" ry="5.3" stroke-width="1.1" fill="#fff"/>
<ellipse cx="673.4" cy="161.8" rx="2.3" ry="3.5" stroke-width="0.9"/>
<ellipse cx="682.5" cy="161.5" rx="2.3" ry="3.6" stroke-width="1.8" fill="#fff"/>
<line x1="682.5" y1="159.5" x2="682.5" y2="163.5"/>
<path d="M701.5,149.5 L696.5,155.5 L691.5,157 C690.3,160 690.3,164 691.5,167 C692.5,169 694,170 695.5,169.5 M696.5,155.5 C698.5,156.5 700,158.5 700.5,161" stroke-width="0.9"/>
<path d="M710,155.5 L714.5,155.8 C716.5,157 717.5,159 717.5,161.5 C717.5,164 716.5,166.3 714.5,167.2 L710,167.5" fill="#fff"/>
<ellipse cx="710" cy="161.5" rx="3.6" ry="6" fill="#fff"/>
<ellipse cx="714.3" cy="161.5" rx="2.6" ry="5" stroke-width="1.5" fill="#888"/>
<ellipse cx="714.8" cy="161.5" rx="1" ry="2.5" stroke-width="0.7" fill="#fff"/>
<ellipse cx="727" cy="161.5" rx="4.3" ry="5.3" stroke-width="1.5" fill="#fff"/>
<ellipse cx="727.4" cy="161.5" rx="2.2" ry="3.2" stroke-width="1.2"/>
<ellipse cx="740" cy="161.3" rx="3.6" ry="4.8" fill="#fff"/>
<path d="M741.5,157 C743.5,158.5 743.5,164 741.5,165.6" stroke-width="0.8"/>
<ellipse cx="752" cy="161" rx="3.4" ry="4.8" fill="#fff"/>
<path d="M753.5,156.8 C755.5,158.5 755.5,163.5 753.5,165.3" stroke-width="0.8"/>
<polyline points="782,157 778,143.5 769,141 758.5,153 758.7,174.7 771,183.5" stroke-width="0.9"/>
<path d="M773,159 l4.5,-.5 l0,7 l-4.5,-.5 z" fill="#ccc"/>
<ellipse cx="773.3" cy="162" rx="1.4" ry="3" stroke-width="0.9" fill="#fff"/>
<path d="M777.5,160.3 l5,.2 l0,3.3 l-5,.2" stroke-width="0.9"/>
<line x1="780" y1="160.5" x2="780" y2="163.8" stroke-width="0.7"/>
<path d="M796,143.5 C790,146 786,153 786,162 C786,171 789.5,178.5 796,180.5 L806,180.3" stroke-width="1.1" fill="#fff"/>
<path d="M796,143.5 L806,144.5"/>
<ellipse cx="803.5" cy="162" rx="10.3" ry="17.8" fill="#fff"/>
<ellipse cx="803" cy="162" rx="8.3" ry="14.8"/>
<ellipse cx="803.5" cy="162" rx="6.2" ry="12"/>
<ellipse cx="804" cy="162" rx="4.8" ry="10" stroke-width="0.8"/>
<path d="M798,146.5 C793,149 790.5,155 790.5,162 C790.5,169 793,175.5 798,178" stroke-width="0.8"/>
<path d="M806,179.8 l-3.5,2.5 l1,3 l3.5,-1 M803.5,185.3 l5,-1.5 l3.5,-5"/>
<path d="M809,162 l5,1.5 M809,166 l5,.5 M808,170 l5,-1" stroke-width="0.7"/>
<path d="M829,135.5 C821,138 816,148 816,161 C816,174 820,184.5 828,187.5 L842,183 L842,139 Z" stroke-width="1.1" fill="#fff"/>
<path d="M826.5,136.5 l1,-4 l6,1.5 l-.5,3.5" fill="#fff"/>
<path d="M829,135.5 L841,139.5" stroke-width="0.9"/>
<path d="M831,139 C825,143 822,151 822,161 C822,171 825,180 830,184" stroke-width="0.8"/>
<path d="M825,146 l2,0 l0,5 l-2,0 M824,158 l2,0 l0,5 l-2,0 M825,170 l2,0 l0,5 l-2,0" stroke-width="0.7"/>
<ellipse cx="843" cy="161" rx="12" ry="21.3" stroke-width="1.1" fill="#fff"/>
<ellipse cx="845" cy="161" rx="6.8" ry="8.8" stroke-width="0.9"/>
<ellipse cx="845" cy="161" rx="3.8" ry="5" stroke-width="1.2" fill="#ccc"/>
<ellipse cx="845" cy="161" rx="1.7" ry="2.1" stroke-width="0.8" fill="#fff"/>
<path d="M838,175 l6,3.5 l6,-3" stroke-width="0.8"/>
<ellipse cx="849" cy="154" rx="1" ry="1.2" stroke-width="0.7"/>
<ellipse cx="839.5" cy="168" rx="1" ry="1.2" stroke-width="0.7"/>
<ellipse cx="850.5" cy="151" rx="0.8" ry="1" stroke-width="0.7"/>
<path d="M828,187.5 l1.5,-3.5 M832,186 l1,-3" stroke-width="0.8"/>
<path d="M838,192 L841.5,190 L847.5,191.5 L848,198.5 L844,200.5 L838.5,198.5 Z" fill="#fff"/>
<ellipse cx="845" cy="196" rx="2.2" ry="3" stroke-width="0.9"/>
<path d="M841.5,190 L841.5,199.5" stroke-width="0.7"/>
<path d="M874,129.5 C866,130.5 860,136.5 859.5,147 C859.3,160 862,173 868,182.5 C875,191 886,199 896,206 C905,204.5 912,197 913.5,187 C914.5,170 906,151 894,140 C888,134 881,130 874,129.5 Z" stroke-width="1.1" fill="#fff"/>
<path d="M864,135.5 C861.5,140 861.3,150 862.5,160 C864,171 867,179 872,185 C879,192 888,198 896,203.5" stroke-width="0.8"/>
<path d="M866,134 C876,138 888,146 897,158" stroke-width="0.7"/>
<ellipse cx="902.5" cy="177.5" rx="7.3" ry="12" fill="#fff"/>
<ellipse cx="901.5" cy="177.5" rx="5" ry="9.3"/>
<path d="M898,172 l8,2 M897.5,181 l8,-1.5 M902,169 l0,17" stroke-width="0.7"/>
<ellipse cx="901" cy="177.5" rx="2.5" ry="5" stroke-width="0.8"/>
<path d="M516,45.7 C510,46.5 503,53 498.5,61 C496,66 496.5,73 501.3,79 C504,80 506,77 506.5,73 C507.5,65 512,56 517.3,47.5 Z" stroke-width="1.2" fill="#fff"/>
<path d="M513,48.5 C507,53 502,60 500.5,66 M509.2,55.8 L503,67 L504.5,68 L510.5,57" stroke-width="0.9"/>
<ellipse cx="495.7" cy="64.2" rx="1.2" ry="1.5" stroke-width="1.3" fill="#333"/>
<path d="M529.5,45.7 L543,45 C547,46 550,48.5 552,51.5 L562.5,51.5 L564.2,54.8 C559,58 555.5,61 554,64.5 L553.5,73 C552.5,75 550.5,75.3 549.3,74.5 C547.5,73 546.5,70 546,66 L526,67.5 C525.8,70 525.3,73 523.5,75 C521.5,76 519.3,74.5 518.7,72 C518,68 518,65 518.5,62 C521,56 525,50 529.5,45.7 Z" stroke-width="1.2" fill="#fff"/>
<path d="M523.8,54.7 C531,53.2 542,52.8 549.5,53.5 M522,62 L545.7,61 M526,67.5 C524.5,66 523.5,64 522,62 M545.7,61 C546,57 548.5,53.5 552,51.5" stroke-width="0.9"/>
<path d="M556,55 l4.5,-1.5 M552,62.5 l4,-3.5 l.8,1 l-4,3.5 z" stroke-width="0.9"/>
<path d="M581,44 C575,46.5 570,53 566.5,62 C565,67 565.5,74 569.8,78.5 L571.2,78.2 C573,76 573.5,74 574,70 C575,64 579,55 583.5,45.7 Z" stroke-width="1.2" fill="#fff"/>
<path d="M578.5,47 C573,52 569,60 567.5,67 M574.9,56.3 L571,64.7 L572.3,65.5 L576.3,57.2 Z" stroke-width="0.9"/>
<ellipse cx="586" cy="46.8" rx="1" ry="1.2" stroke-width="1.2" fill="#333"/>
<path d="M569.8,78.5 l1.2,-2.5 l1,2" stroke-width="1.2"/>
<polyline points="583.5,45.5 585,46.3" stroke-width="0.7"/>
<path d="M463.3,132.1 C460.5,132.5 459,133.5 458.2,135.2 C456,138.5 454.8,142 454.1,146.4 C453.2,153 452.9,160 453.1,166.8 C453.3,174 454,181 455.1,187.2 C456.3,194 458,200.5 460.2,205.6 C462.3,210 465,213.5 468.4,215.8 C471.5,217.3 475,217.6 478.6,216.8 C482,215.8 485,214 487.8,211.7 L497,193 L494,150 C493,146 491,143 488.8,140.3 C486,137 482.5,134.5 478.6,133.1 C474,131.8 468,131.5 463.3,132.1 Z" stroke-width="1.2" fill="#fff"/>
<path d="M462.8,137 C460.5,141 459.6,145.5 459.2,150.5 C458.4,156 458.1,161.5 458.2,166.8 C458.4,174 459,181 460.2,187.2 C461.3,193 463,198.8 465.3,203.6 C467.2,207.5 469.7,210.6 472.5,212.7 C475.5,214.5 479,214.8 482.7,213.8" stroke-width="0.8"/>
<ellipse cx="478.6" cy="160.7" rx="13.3" ry="27.5" fill="#fff"/>
<ellipse cx="480.3" cy="161" rx="11.8" ry="25.5" stroke-width="0.8"/>
<path d="M468,141 l2.5,-3 l1.5,3 M472,139 l3,-3 l1,3.5 M477,137 l2.5,2.5 M466.5,147 l2,-2.5 M474,146 l3,-3.5 l1.5,3 l-2.5,3" stroke-width="0.8"/>
<path d="M462.5,156.5 L473.5,156 L486,181 L474.5,187 Z" stroke-width="0.9" fill="#fff"/>
<path d="M462.5,156.5 L465.5,164 L477.5,186 M473.5,156 C479,152.5 485,152 489.5,154" stroke-width="0.8"/>
<path d="M477,150 C481,151 484,154 485,158 M479,161.5 L492,161 M481,166 L491.5,165.5" stroke-width="0.8"/>
<path d="M471,175 C474,172.5 478,173.5 479.5,177 C480.5,180 484,180.5 486.5,178 M477,183.5 C480,186 484.5,185 487,181.5" stroke-width="0.9"/>
<ellipse cx="485.5" cy="177.5" rx="1.1" ry="1.6" stroke-width="0.8"/>
<path d="M468,150 l-1.5,6 M470,170 l4,9" stroke-width="0.7"/>
<path d="M466,143.5 l1.5,-2 l1,2.2 l1.6,-2.4 l1,2.2 l1.7,-2.6 l1,2.2 l1.8,-2.6 l1,2.2 l1.8,-2.2 l1.2,2.6" stroke-width="0.8"/>
<path d="M463,157.5 C467,154.5 472,154.5 476,158 C480,162 483,170 486,180 M465,163 C470,161 474,164 477,170"/>
<path d="M478.5,146 C483,146.5 487,150 489,155.5 M481,172.5 C483,174.5 484,177 484,180" stroke-width="0.8"/>
<path d="M474.5,189.3 L500,189.3 L500.5,192.3 L475.5,192.5 Z" stroke-width="0.9" fill="#fff"/>
<path d="M480.7,194.4 L497,193.3 L509.2,217.8 L495,221.9 Z" fill="#fff"/>
<path d="M489,195 L502,219.5 M495.5,194.5 L507.5,216" stroke-width="0.7"/>
<path d="M503.1,129.7 C499.5,130.5 497.3,132 496,134.2 C494.3,136.5 493.6,139 493.3,142.3 C493,147 493.3,152 493.9,156.6 C494.5,162 495.5,168 497,172.9 C498.5,177.5 500.5,181.5 503.1,185.2 C506,189 509.5,192.3 513.3,195.4 L526.6,206.6 L531.7,204.6 L531.7,193.3 L532.7,177 L537.8,168.9 C537.6,164.5 537,160.5 535.8,156.6 C534,152 531.5,148 528.6,144.4 C525.5,140 521.5,136 517.4,133.1 C513,130.5 508,129.3 503.1,129.7 Z" stroke-width="1.3" fill="#fff"/>
<path d="M503.5,133.8 C501,135 500,136.5 499.6,138.5 C498.6,142 498.2,144.5 498.3,147 C498.4,151 498.8,155 499.4,159 C500.1,164 501,168.5 502.3,172.6 C503.8,176.8 505.7,180.5 508,183.8 C510.7,187 513.7,190 517,192.7 L529,202.7" stroke-width="0.8"/>
<ellipse cx="511.3" cy="158.7" rx="11.2" ry="25.5" stroke-width="1.1" fill="#fff"/>
<ellipse cx="513.8" cy="159" rx="10.2" ry="23.5" stroke-width="0.8"/>
<path d="M499.3,142.3 l2.6,-.8 l.8,8 l-2.6,.6 M528.6,150.5 l2.8,-.5 l.8,8 l-2.8,.5 z" stroke-width="0.8"/>
<path d="M527,160 L536.5,169 M527,166 l5,4.5" stroke-width="0.7"/>
<path d="M486,161.7 L521.5,161.7" stroke-width="0.7"/>
<path d="M487,169 L520.5,167 M500,180 L517,178" stroke-width="0.7"/>
<ellipse cx="524.5" cy="190.5" rx="2.5" ry="2.9" stroke-width="1.3"/>
<ellipse cx="529.5" cy="189" rx="2" ry="2.4" stroke-width="1.1"/>
<ellipse cx="519.5" cy="190" rx="1.7" ry="2.1"/>
<ellipse cx="532.5" cy="192" rx="1.5" ry="1.8" stroke-width="0.9"/>
<path d="M516,190.5 L523.5,198.5 M519,185.5 L531.5,185 M524,181 l3.5,3.5 M521,194 l5,1 M527,192 l3,4" stroke-width="0.8"/>
<path d="M526.5,174 l1.5,2.5 l-1.5,2" stroke-width="0.7"/>
<polyline points="374.1,265.2 372.5,264.6 371.4,266.6 370.1,264.9 368.5,265.7 367.8,263.2 366.3,262.7 366.3,259.9 365,258.3 365.7,255.8 365,253.3 366.3,251.7 366.3,248.9 367.8,248.4 368.5,245.9 370.1,246.7 371.4,245 372.5,247 374.1,246.4" stroke-width="0.9"/>
<ellipse cx="371.5" cy="255.8" rx="4.5" ry="8.8" stroke-width="0.8"/>
<ellipse cx="376" cy="255.5" rx="4.8" ry="9.6" stroke-width="0.9" fill="#fff"/>
<path d="M368,247 l2,1.5 M366.3,251 l2.5,1 M365.8,256 l2.5,0 M366.5,261 l2.3,-1 M368.5,265 l2,-1.5" stroke-width="0.8"/>
<path d="M374,252 L413,252 L413,259.2 L374,259.2 Z" stroke-width="0.9" fill="#fff"/>
<path d="M386.5,252.3 l2,6.6 l2.2,-6.6" stroke-width="0.9"/>
<path d="M390.7,252.3 l2,6.6 l2.2,-6.6" stroke-width="0.9"/>
<path d="M394.9,252.3 l2,6.6 l2.2,-6.6" stroke-width="0.9"/>
<path d="M399.1,252.3 l2,6.6 l2.2,-6.6" stroke-width="0.9"/>
<path d="M403.3,252.3 l2,6.6 l2.2,-6.6" stroke-width="0.9"/>
<path d="M408.5,252.2 l0,7 M413,253.6 L417,253.6 L417,257.6 L413,257.6" stroke-width="0.8"/>
<path d="M417,253.8 l4,0 l0,3.6 l-4,0 z" stroke-width="0.8" fill="#999"/>
<ellipse cx="431.8" cy="255.2" rx="3.5" ry="4.9" fill="#fff"/>
<ellipse cx="432.3" cy="255.2" rx="1.8" ry="3.4" stroke-width="1.3"/>
<ellipse cx="450.4" cy="254.6" rx="5.3" ry="6.2" fill="#fff"/>
<ellipse cx="451.2" cy="254.6" rx="2.8" ry="4.6" stroke-width="1.3"/>
<line x1="450.7" y1="250.3" x2="450.7" y2="259"/>
<path d="M494.7,246.8 L503.7,245.7 L508.2,242.3 L514.9,242.9 L517.7,246.8 L517.1,258 L513.8,260.3 L507.5,259.5 L505.9,264.8 L502.6,269.9 L497.5,271 L492.5,263.7 C489,262 487.2,258.5 487.4,254.7 C487.6,250.5 490.5,247.3 494.7,246.8 Z" fill="#fff"/>
<ellipse cx="502" cy="254.7" rx="4" ry="6.3" fill="#fff"/>
<ellipse cx="502.8" cy="254.7" rx="2.6" ry="4.8" stroke-width="0.8"/>
<path d="M497.5,247 C494.5,249 493.3,252 493.3,255 C493.3,258.5 494.5,261.5 497,263.3" stroke-width="0.8"/>
<ellipse cx="510" cy="246.3" rx="3.7" ry="3.2" fill="#999" transform="rotate(-20 510 246.3)"/>
<ellipse cx="511" cy="256.4" rx="1" ry="1.3" stroke-width="0.8"/>
<ellipse cx="504.2" cy="267.6" rx="2.3" ry="2.6" stroke-width="0.9" fill="#999"/>
<path d="M492.5,263.7 L498.5,263.5 M497.5,271 l.8,-3.5" stroke-width="0.8"/>
<path d="M508.2,278 L510.5,281 L513,287 L514.9,291.5 L512.5,293.6 L509.5,292.5 L506,284 L505.2,280 Z" fill="#fff"/>
<path d="M506.2,283.5 l4.8,-2 M507.5,287 l5.2,-2 M508.8,290 l5,-2"/>
<path d="M508.2,278 L507.5,282.5" stroke-width="1.3"/>
<ellipse cx="514.3" cy="298.1" rx="4.2" ry="2.9" stroke-width="1.3" fill="#fff" transform="rotate(-20 514.3 298.1)"/>
<ellipse cx="514.3" cy="298.1" rx="2.4" ry="1.4" stroke-width="0.8" transform="rotate(-20 514.3 298.1)"/>
<path d="M512.3,308.5 L514,315.5 C516,319 520.5,320.3 524,318.8 C526.5,317.5 527.5,315.5 527.2,312.5 L524.5,306" fill="#fff"/>
<ellipse cx="518.4" cy="307.8" rx="6.2" ry="4.2" stroke-width="1.1" fill="#fff" transform="rotate(-18 518.4 307.8)"/>
<ellipse cx="518.6" cy="308.3" rx="4.2" ry="2.6" transform="rotate(-18 518.6 308.3)"/>
<path d="M516,308.5 l4,-1.5" stroke-width="0.8"/>
<path d="M553.6,248.5 L592,248.5 L595,251 L595.3,258 L592,259.8 L553.6,259.8 C551.5,258 550.8,256 550.8,254.1 C550.8,252 551.5,250 553.6,248.5 Z" fill="#fff"/>
<path d="M555.5,248.8 C557,250.5 557.2,257.5 555.5,259.6" stroke-width="0.8"/>
<polyline points="562,256.4 587,256.4" stroke-width="0.7" stroke-dasharray="3 1.2"/>
<path d="M589.5,252 l3,-2.5 l2.5,4.5 l-2,3.5 l-3.5,-1 z" stroke-width="0.8" fill="#444"/>
<path d="M595,253 l3,1 l-3,1.5" stroke-width="0.8"/>
<path d="M603,254.5 C603,251 605,249.3 607.5,249.5 L611.5,248.2 C613.3,248.5 614,250 613.5,251.5 L610.5,253 C611,256 609.5,259 607,259.3 C604.5,259.3 603,257.5 603,254.5 Z" fill="#fff"/>
<ellipse cx="607" cy="255" rx="1.5" ry="2.4" stroke-width="0.8"/>
<ellipse cx="611.5" cy="250.3" rx="1" ry="1.2" stroke-width="0.7"/>
<ellipse cx="628.7" cy="254.2" rx="4.3" ry="7" fill="#fff"/>
<ellipse cx="629" cy="254.2" rx="1.2" ry="2" stroke-width="1.1"/>
<ellipse cx="647.5" cy="253.8" rx="2.4" ry="3.6" stroke-width="1.3" fill="#fff"/>
<path d="M645.5,252.5 l4,0 M645.5,255 l4,0" stroke-width="0.8"/>
<path d="M509.5,321.2 C506.5,325 505,330 504.5,336 C503.5,342 504,348 506,352 C509,357 515,361 523,362.4 L539.4,362.4 C546,361 551,358.5 554.5,354.5 C558.5,350 560.3,343 560.3,334 C559.5,328 557.5,323.5 555,320.5 L548.5,325.5 L547.6,330 L548.4,340 L546,349 L518.4,349.7 L517,340 L516.2,326.5 Z" stroke-width="1.1" fill="#fff"/>
<path d="M509.5,321.2 L511,327 L508.5,340 L509,348 L518.4,356.5 L541,356.5 L548.5,352 L552,346 M518.4,349.7 L518.4,356.5 M511,327 L516.2,326.5 M555,320.5 L552.5,327 L548.5,325.5 M552.5,327 L553.5,336" stroke-width="0.8"/>
<path d="M506,352 L509,348 M546,349 L548.5,352 M513,330 L515.5,347" stroke-width="0.7"/>
<ellipse cx="509.8" cy="343" rx="1.6" ry="2.6" stroke-width="0.9"/>
<ellipse cx="551.4" cy="342.2" rx="1.8" ry="2.8"/>
<path d="M555,320.5 L551,322 L548.5,325.5 Z" stroke-width="0.8" fill="#333"/>
<path d="M507.3,327 C505.8,335 506.2,346 508.5,351 C512,356 517,359 523.5,360.3 L539,360.3 C545,359.3 550,357 553,353.5 C557,348.5 558.6,342 558.3,334.5" stroke-width="0.8"/>
<path d="M512.5,324 L514.5,336 L513,347.5 M550.5,324.5 L549.5,334 L552,330 M554,339 L556.5,347 M549,347 L553,351 M507,338 L510,336.5" stroke-width="0.8"/>
<path d="M509.5,321.2 L512.5,324 L516.2,326.5" stroke-width="1.1"/>
<path d="M592.8,341.2 C592,341.7 592,342.8 592.8,343.3 L631,343.6 L631,340.2 Z" stroke-width="0.9" fill="#fff"/>
<path d="M626,340.3 l0,3.3 M628,340.3 l0,3.3" stroke-width="0.7"/>
<path d="M631,338 L636,337 L639.5,339 L639.8,344 L636.5,346.2 L631,345.5 Z" fill="#fff"/>
<ellipse cx="636.3" cy="341.5" rx="2.4" ry="3.6"/>
<path d="M635,340 l2.5,3" stroke-width="0.8"/>
<path d="M717.5,264.5 C718.5,259.5 720.5,255 723,253.2 L729,252.5 C730.5,254 731,257 730.8,260 M723,253.2 C721.5,257 721,261 721.3,265 M730.8,260 C730.5,266 728,271.5 724,275 L723,274 C726,270.5 728,265 728.3,259.5 L728,255" stroke-width="0.9"/>
<ellipse cx="741" cy="263.7" rx="2.9" ry="4.2" stroke-width="1.7" fill="#fff"/>
<ellipse cx="741.3" cy="263.7" rx="1" ry="2" stroke-width="0.9" fill="#555"/>
<ellipse cx="753" cy="263.7" rx="2.3" ry="3.4" stroke-width="1.7" fill="#fff"/>
<ellipse cx="753.2" cy="263.7" rx="0.7" ry="1.5" stroke-width="0.8" fill="#555"/>
<path d="M775.5,249.7 C770.5,251 767,256.5 767,263.5 C767,270.5 770.5,276.5 775.5,277.5 L781,277.3 L781,250 Z" fill="#fff"/>
<line x1="770.2" y1="252.5" x2="772.8" y2="252.5" stroke-width="0.7"/>
<line x1="769.6" y1="255.3" x2="772.5" y2="255.3" stroke-width="0.7"/>
<line x1="769.1" y1="258.1" x2="772.2" y2="258.1" stroke-width="0.7"/>
<line x1="768.5" y1="260.9" x2="771.8" y2="260.9" stroke-width="0.7"/>
<line x1="768" y1="263.7" x2="771.5" y2="263.7" stroke-width="0.7"/>
<line x1="768.5" y1="266.5" x2="771.8" y2="266.5" stroke-width="0.7"/>
<line x1="769.1" y1="269.3" x2="772.2" y2="269.3" stroke-width="0.7"/>
<line x1="769.6" y1="272.1" x2="772.5" y2="272.1" stroke-width="0.7"/>
<line x1="770.2" y1="274.9" x2="772.8" y2="274.9" stroke-width="0.7"/>
<ellipse cx="781" cy="263.6" rx="8.8" ry="13.7" fill="#fff"/>
<path d="M776,251 C772.5,254 771,258.5 771,263.5 C771,269 772.5,273.5 776,276.5" stroke-width="0.7"/>
<ellipse cx="783" cy="263.6" rx="4.5" ry="7.3"/>
<ellipse cx="783.3" cy="263.6" rx="3" ry="5.3" fill="#bbb"/>
<ellipse cx="783.6" cy="263.6" rx="1.5" ry="3" stroke-width="0.8" fill="#fff"/>
<ellipse cx="794" cy="263.7" rx="2.2" ry="5.3" stroke-width="0.9"/>
<ellipse cx="798" cy="263.7" rx="2.2" ry="5.3" stroke-width="0.9"/>
<ellipse cx="802" cy="263.7" rx="2.2" ry="5.3" stroke-width="0.9"/>
<path d="M809,261.8 L815,261.8 L815,265.8 L809,265.8 Z" stroke-width="0.9" fill="#fff"/>
<line x1="810.3" y1="261.8" x2="810.3" y2="265.8" stroke-width="0.7"/>
<line x1="811.9" y1="261.8" x2="811.9" y2="265.8" stroke-width="0.7"/>
<line x1="813.5" y1="261.8" x2="813.5" y2="265.8" stroke-width="0.7"/>
<path d="M815,260.3 L827,260 L827,267.3 L815,267 Z" stroke-width="0.9" fill="#fff"/>
<path d="M827,258 C825.5,259.5 825.5,268 827,269.5" stroke-width="0.8"/>
<path d="M827,256.5 L832,255.7 L832,270.7 L827,269.8 Z" stroke-width="0.9" fill="#fff"/>
<ellipse cx="832" cy="263.2" rx="5.3" ry="7.5" fill="#fff"/>
<path d="M829,258.5 L835,268 M830.3,257.7 L836.2,267" stroke-width="0.8"/>
<polygon points="737.4,346.8 739,342.3 744,342.9 745.2,348.5 747.5,350.2 750.3,348.5 749.1,339 750.8,337.3 753.6,340.7 757,343.5 757.6,348 754.8,354.1 751.4,359.2 749.7,359.7 751.4,362 748.6,369.3 746.3,372.1 741.8,374.3 739.6,377.1 736.8,376 736.2,373.2 739.6,371.5 741.3,367 740.2,350.2 739.6,346.8" fill="#fff"/>
<ellipse cx="753.1" cy="350.2" rx="1" ry="1.6" stroke-width="0.8"/>
<ellipse cx="744.3" cy="368.2" rx="1.6" ry="2.8" stroke-width="0.9"/>
<ellipse cx="738.3" cy="374.5" rx="1" ry="1.4" stroke-width="0.8"/>
<path d="M750,341 l2.5,3.5 M743.5,352 L744.5,364" stroke-width="0.7"/>
<path d="M714,347.3 l3.5,-.3 l0,5.3 l-3.5,-.3 z" stroke-width="0.9" fill="#fff"/>
<ellipse cx="714.2" cy="349.7" rx="1.2" ry="2.5" stroke-width="0.9" fill="#fff"/>
<path d="M717.5,348.3 l6.3,.2 l0,2.6 l-6.3,.2" stroke-width="0.8"/>
<line x1="720" y1="348.4" x2="720" y2="351.2" stroke-width="0.7"/>
<line x1="722" y1="348.4" x2="722" y2="351.2" stroke-width="0.7"/>
<ellipse cx="700" cy="367.3" rx="2.6" ry="4" stroke-width="1.1" fill="#fff"/>
<ellipse cx="701.5" cy="367.3" rx="2.2" ry="3.4" stroke-width="0.9" fill="#fff"/>
<path d="M703.5,365.4 l5.2,.2 l0,3.6 l-5.2,.2" stroke-width="0.9"/>
<line x1="705.5" y1="365.5" x2="705.5" y2="369.2" stroke-width="0.7"/>
<line x1="707" y1="365.5" x2="707" y2="369.2" stroke-width="0.7"/>
<path d="M684,354 C686,353.5 687,355 687.2,358 L687.4,364.8" stroke-width="0.8"/>
<ellipse cx="686.2" cy="366.5" rx="2.3" ry="1.1"/>
<ellipse cx="686.2" cy="368.9" rx="2.3" ry="1.1"/>
<ellipse cx="686.2" cy="371.3" rx="2.3" ry="1.1"/>
<ellipse cx="686.2" cy="373.7" rx="2.3" ry="1.1"/>
<ellipse cx="686.2" cy="376.1" rx="2.3" ry="1.1"/>
<path d="M491,402.3 L500,403.5 C503.5,405 505.5,408.5 505.5,412.5 C505.5,417 503.5,420.5 500,421.8 L491,423" fill="#fff"/>
<ellipse cx="491.2" cy="412.7" rx="6.7" ry="10.5" stroke-width="1.1" fill="#fff"/>
<ellipse cx="499.5" cy="412.3" rx="4.6" ry="8.6" stroke-width="1.3" fill="#fff"/>
<ellipse cx="500" cy="412.3" rx="2.6" ry="6.2" stroke-width="1.2" fill="#666"/>
<ellipse cx="500.3" cy="412.3" rx="1.2" ry="3.8" stroke-width="0.7" fill="#fff"/>
<ellipse cx="490.2" cy="406.7" rx="3" ry="1.9" stroke-width="0.9"/>
<ellipse cx="489.5" cy="412.7" rx="3" ry="1.9" stroke-width="0.9"/>
<ellipse cx="490.2" cy="418.7" rx="3" ry="1.9" stroke-width="0.9"/>
<path d="M494.5,405 l0,15" stroke-width="0.8"/>
<path d="M512.2,404.7 L525,404.7 C527.5,406 528.8,409 528.8,412.2 C528.8,415.5 527.5,418.5 525,419.8 L512.2,419.8 C510.3,418.5 509.3,415.5 509.3,412.2 C509.3,409 510.3,406 512.2,404.7 Z" fill="#fff"/>
<ellipse cx="525.3" cy="412.2" rx="3.3" ry="7.3" fill="#fff"/>
<ellipse cx="525.8" cy="412.2" rx="1.8" ry="4.8" stroke-width="1.2"/>
<ellipse cx="541.4" cy="412.2" rx="10.5" ry="17.2" stroke-width="1.1" fill="#fff"/>
<ellipse cx="542.2" cy="412.2" rx="9.4" ry="16" stroke-width="0.7"/>
<ellipse cx="542" cy="412.2" rx="4.2" ry="6.9" stroke-width="1.1"/>
<ellipse cx="542.6" cy="412.2" rx="2.3" ry="4.6" stroke-width="0.9"/>
<path d="M540,407 l4,2 M540,417.5 l4,-2 M542.6,407.6 l0,9.2" stroke-width="0.8"/>
<ellipse cx="560" cy="412.2" rx="8.2" ry="15" stroke-width="1.1" fill="#fff"/>
<ellipse cx="560.5" cy="412.7" rx="2.7" ry="5.2"/>
<polygon points="582.5,412.2 582.5,413.6 582.4,415.1 582.2,416.5 582,417.8 581.7,419.2 581.3,420.4 580.9,421.7 580.4,422.8 580.1,424.4 579.9,426.1 579.3,427.3 578.4,427.9 577.5,427.8 576.6,427.7 575.8,428.1 575.1,428.4 574.3,428.6 573.5,428.7 572.7,428.6 571.9,428.4 571.2,428.1 570.4,427.7 569.5,427.8 568.6,427.9 567.7,427.3 567.1,426.1 566.9,424.4 566.6,422.8 566.1,421.7 565.7,420.4 565.3,419.2 565,417.8 564.8,416.5 564.6,415.1 564.5,413.6 564.5,412.2 564.5,410.8 564.6,409.3 564.8,407.9 565,406.6 565.3,405.2 565.7,403.9 566.1,402.7 566.6,401.6 566.9,400 567.1,398.3 567.7,397.1 568.6,396.5 569.5,396.6 570.4,396.7 571.2,396.3 571.9,396 572.7,395.8 573.5,395.7 574.3,395.8 575.1,396 575.8,396.3 576.6,396.7 577.5,396.6 578.4,396.5 579.3,397.1 579.9,398.3 580.1,400 580.4,401.6 580.9,402.7 581.3,403.9 581.7,405.2 582,406.6 582.2,407.9 582.4,409.3 582.5,410.8" fill="#fff"/>
<ellipse cx="574" cy="412.2" rx="3.8" ry="7.6"/>
<ellipse cx="586.3" cy="411.6" rx="8.3" ry="16.6" stroke-width="1.1" fill="#fff"/>
<ellipse cx="586.8" cy="411.6" rx="4.6" ry="9.4" stroke-width="1.1"/>
<polygon points="607.6,411.6 607.6,413 607.5,414.5 607.3,415.9 607.1,417.3 606.8,418.6 606.4,419.9 606,421.1 605.6,422.3 605.3,423.8 605.1,425.6 604.5,426.8 603.7,427.4 602.8,427.3 601.9,427.2 601.2,427.6 600.5,427.9 599.7,428.1 599,428.2 598.3,428.1 597.5,427.9 596.8,427.6 596.1,427.2 595.2,427.3 594.3,427.4 593.5,426.8 592.9,425.6 592.7,423.8 592.4,422.3 592,421.1 591.6,419.9 591.2,418.6 590.9,417.3 590.7,415.9 590.5,414.5 590.4,413 590.4,411.6 590.4,410.2 590.5,408.7 590.7,407.3 590.9,405.9 591.2,404.6 591.6,403.3 592,402.1 592.4,400.9 592.7,399.4 592.9,397.6 593.5,396.4 594.3,395.8 595.2,395.9 596.1,396 596.8,395.6 597.5,395.3 598.3,395.1 599,395 599.7,395.1 600.5,395.3 601.2,395.6 601.9,396 602.8,395.9 603.7,395.8 604.5,396.4 605.1,397.6 605.3,399.4 605.6,400.9 606,402.1 606.4,403.3 606.8,404.6 607.1,405.9 607.3,407.3 607.5,408.7 607.6,410.2" fill="#fff"/>
<ellipse cx="599.5" cy="411.6" rx="2.8" ry="6"/>
<ellipse cx="611.7" cy="411.6" rx="8.3" ry="16.6" stroke-width="1.1" fill="#fff"/>
<ellipse cx="612.2" cy="411.6" rx="4.6" ry="9.4" stroke-width="1.1"/>
<polygon points="634.2,411.6 634.2,413 634.1,414.5 633.9,415.9 633.7,417.2 633.4,418.6 633,419.9 632.6,421.1 632.1,422.2 631.8,423.8 631.6,425.5 631,426.7 630.1,427.3 629.2,427.2 628.3,427.1 627.5,427.5 626.8,427.8 626,428 625.2,428.1 624.4,428 623.6,427.8 622.9,427.5 622.1,427.1 621.2,427.2 620.3,427.3 619.4,426.7 618.8,425.5 618.6,423.8 618.3,422.2 617.8,421.1 617.4,419.9 617,418.6 616.7,417.2 616.5,415.9 616.3,414.5 616.2,413 616.2,411.6 616.2,410.2 616.3,408.7 616.5,407.3 616.7,406 617,404.6 617.4,403.4 617.8,402.1 618.3,401 618.6,399.4 618.8,397.7 619.4,396.5 620.3,395.9 621.2,396 622.1,396.1 622.9,395.7 623.6,395.4 624.4,395.2 625.2,395.1 626,395.2 626.8,395.4 627.5,395.7 628.3,396.1 629.2,396 630.1,395.9 631,396.5 631.6,397.7 631.8,399.4 632.1,401 632.6,402.1 633,403.4 633.4,404.6 633.7,406 633.9,407.3 634.1,408.7 634.2,410.2" fill="#fff"/>
<ellipse cx="625.7" cy="411.6" rx="4.2" ry="7.6"/>
<path d="M572,396.1 C564.3,403 564.3,421 572,427.7" stroke-width="0.7"/>
<path d="M584.8,396.1 C577.8,403 577.8,421 584.8,427.7" stroke-width="0.7"/>
<path d="M597.5,396.1 C590.2,403 590.2,421 597.5,427.7" stroke-width="0.7"/>
<path d="M610.2,396.1 C603.2,403 603.2,421 610.2,427.7" stroke-width="0.7"/>
<path d="M623.7,396.1 C616,403 616,421 623.7,427.7" stroke-width="0.7"/>
<polygon points="666,411.8 664.8,413.5 665.8,415.5 664.5,416.9 665.3,419.1 663.8,420.1 664.4,422.5 662.9,423.2 663.2,425.7 661.6,426 661.7,428.5 660.1,428.4 659.9,430.9 658.3,430.4 657.9,432.8 656.4,431.9 655.8,434.2 654.4,433 653.5,435.1 652.3,433.5 651.2,435.4 650.1,433.5 648.9,435.1 648,433 646.6,434.2 646,431.9 644.5,432.8 644.1,430.4 642.5,430.9 642.3,428.4 640.7,428.5 640.8,426 639.2,425.7 639.5,423.2 638,422.5 638.6,420.1 637.1,419.1 637.9,416.9 636.6,415.5 637.6,413.5 636.4,411.8 637.6,410.1 636.6,408.1 637.9,406.7 637.1,404.5 638.6,403.5 638,401.1 639.5,400.4 639.2,397.9 640.8,397.6 640.7,395.1 642.3,395.2 642.5,392.7 644.1,393.2 644.5,390.8 646,391.7 646.6,389.4 648,390.6 648.9,388.5 650.1,390.1 651.2,388.2 652.3,390.1 653.5,388.5 654.4,390.6 655.8,389.4 656.4,391.7 657.9,390.8 658.3,393.2 659.9,392.7 660.1,395.2 661.7,395.1 661.6,397.6 663.2,397.9 662.9,400.4 664.4,401.1 663.8,403.5 665.3,404.5 664.5,406.7 665.8,408.1 664.8,410.1 666,411.8" stroke-width="0.9" fill="#fff"/>
<line x1="653.5" y1="435.1" x2="655.9" y2="435.1" stroke-width="0.8"/>
<line x1="651.2" y1="435.4" x2="653.6" y2="435.4" stroke-width="0.8"/>
<line x1="648.9" y1="435.1" x2="651.3" y2="435.1" stroke-width="0.8"/>
<line x1="646.6" y1="434.2" x2="649" y2="434.2" stroke-width="0.8"/>
<line x1="644.5" y1="432.8" x2="646.9" y2="432.8" stroke-width="0.8"/>
<line x1="642.5" y1="430.9" x2="644.9" y2="430.9" stroke-width="0.8"/>
<line x1="640.7" y1="428.5" x2="643.1" y2="428.5" stroke-width="0.8"/>
<line x1="639.2" y1="425.7" x2="641.6" y2="425.7" stroke-width="0.8"/>
<line x1="638" y1="422.5" x2="640.4" y2="422.5" stroke-width="0.8"/>
<line x1="637.1" y1="419.1" x2="639.5" y2="419.1" stroke-width="0.8"/>
<line x1="636.6" y1="415.5" x2="639" y2="415.5" stroke-width="0.8"/>
<line x1="636.4" y1="411.8" x2="638.8" y2="411.8" stroke-width="0.8"/>
<line x1="636.6" y1="408.1" x2="639" y2="408.1" stroke-width="0.8"/>
<line x1="637.1" y1="404.5" x2="639.5" y2="404.5" stroke-width="0.8"/>
<line x1="638" y1="401.1" x2="640.4" y2="401.1" stroke-width="0.8"/>
<line x1="639.2" y1="397.9" x2="641.6" y2="397.9" stroke-width="0.8"/>
<line x1="640.7" y1="395.1" x2="643.1" y2="395.1" stroke-width="0.8"/>
<line x1="642.5" y1="392.7" x2="644.9" y2="392.7" stroke-width="0.8"/>
<line x1="644.5" y1="390.8" x2="646.9" y2="390.8" stroke-width="0.8"/>
<line x1="646.6" y1="389.4" x2="649" y2="389.4" stroke-width="0.8"/>
<line x1="648.9" y1="388.5" x2="651.3" y2="388.5" stroke-width="0.8"/>
<line x1="651.2" y1="388.2" x2="653.6" y2="388.2" stroke-width="0.8"/>
<line x1="653.5" y1="388.5" x2="655.9" y2="388.5" stroke-width="0.8"/>
<polygon points="668.4,411.8 667.2,413.5 668.2,415.5 666.9,416.9 667.7,419.1 666.2,420.1 666.8,422.5 665.3,423.2 665.6,425.7 664,426 664.1,428.5 662.5,428.4 662.3,430.9 660.7,430.4 660.3,432.8 658.8,431.9 658.2,434.2 656.8,433 655.9,435.1 654.7,433.5 653.6,435.4 652.5,433.5 651.3,435.1 650.4,433 649,434.2 648.4,431.9 646.9,432.8 646.5,430.4 644.9,430.9 644.7,428.4 643.1,428.5 643.2,426 641.6,425.7 641.9,423.2 640.4,422.5 641,420.1 639.5,419.1 640.3,416.9 639,415.5 640,413.5 638.8,411.8 640,410.1 639,408.1 640.3,406.7 639.5,404.5 641,403.5 640.4,401.1 641.9,400.4 641.6,397.9 643.2,397.6 643.1,395.1 644.7,395.2 644.9,392.7 646.5,393.2 646.9,390.8 648.4,391.7 649,389.4 650.4,390.6 651.3,388.5 652.5,390.1 653.6,388.2 654.7,390.1 655.9,388.5 656.8,390.6 658.2,389.4 658.8,391.7 660.3,390.8 660.7,393.2 662.3,392.7 662.5,395.2 664.1,395.1 664,397.6 665.6,397.9 665.3,400.4 666.8,401.1 666.2,403.5 667.7,404.5 666.9,406.7 668.2,408.1 667.2,410.1 668.4,411.8" fill="#fff"/>
<ellipse cx="653.6" cy="411.8" rx="12.6" ry="21" stroke-width="0.6"/>
<ellipse cx="655.3" cy="411.8" rx="2.6" ry="3.6" stroke-width="0.9"/>
<ellipse cx="659.8" cy="415.9" rx="1.1" ry="1.5" stroke-width="0.8"/>
<line x1="657.6" y1="413.6" x2="658.9" y2="415.2" stroke-width="0.7"/>
<ellipse cx="655.3" cy="420" rx="1.1" ry="1.5" stroke-width="0.8"/>
<line x1="655.3" y1="415.4" x2="655.3" y2="418.5" stroke-width="0.7"/>
<ellipse cx="650.8" cy="415.9" rx="1.1" ry="1.5" stroke-width="0.8"/>
<line x1="653" y1="413.6" x2="651.7" y2="415.2" stroke-width="0.7"/>
<ellipse cx="650.8" cy="407.7" rx="1.1" ry="1.5" stroke-width="0.8"/>
<line x1="653" y1="410" x2="651.7" y2="408.4" stroke-width="0.7"/>
<ellipse cx="655.3" cy="403.6" rx="1.1" ry="1.5" stroke-width="0.8"/>
<line x1="655.3" y1="408.2" x2="655.3" y2="405.1" stroke-width="0.7"/>
<ellipse cx="659.8" cy="407.7" rx="1.1" ry="1.5" stroke-width="0.8"/>
<line x1="657.6" y1="410" x2="658.9" y2="408.4" stroke-width="0.7"/>
<polygon points="685.8,410.9 684.5,412.7 685.3,415.1 683.6,416.2 683.8,418.9 682,419 681.5,421.6 679.8,420.9 678.8,423.1 677.3,421.5 675.8,423.1 674.8,420.9 673,421.6 672.6,419 670.8,418.9 671,416.2 669.3,415.1 670.1,412.7 668.8,410.9 670.1,409.1 669.3,406.7 671,405.6 670.8,402.9 672.6,402.8 673,400.2 674.8,400.9 675.8,398.7 677.3,400.3 678.8,398.7 679.8,400.9 681.5,400.2 682,402.8 683.8,402.9 683.6,405.6 685.3,406.7 684.5,409.1 685.8,410.9" stroke-width="0.9" fill="#fff"/>
<line x1="678.8" y1="423.1" x2="681" y2="423.1" stroke-width="0.9"/>
<line x1="675.8" y1="423.1" x2="678" y2="423.1" stroke-width="0.9"/>
<line x1="673" y1="421.6" x2="675.2" y2="421.6" stroke-width="0.9"/>
<line x1="670.8" y1="418.9" x2="673" y2="418.9" stroke-width="0.9"/>
<line x1="669.3" y1="415.1" x2="671.5" y2="415.1" stroke-width="0.9"/>
<line x1="668.8" y1="410.9" x2="671" y2="410.9" stroke-width="0.9"/>
<line x1="669.3" y1="406.7" x2="671.5" y2="406.7" stroke-width="0.9"/>
<line x1="670.8" y1="402.9" x2="673" y2="402.9" stroke-width="0.9"/>
<line x1="673" y1="400.2" x2="675.2" y2="400.2" stroke-width="0.9"/>
<line x1="675.8" y1="398.7" x2="678" y2="398.7" stroke-width="0.9"/>
<line x1="678.8" y1="398.7" x2="681" y2="398.7" stroke-width="0.9"/>
<polygon points="688,410.9 686.7,412.7 687.5,415.1 685.8,416.2 686,418.9 684.2,419 683.8,421.6 682,420.9 681,423.1 679.5,421.5 678,423.1 677,420.9 675.2,421.6 674.8,419 673,418.9 673.2,416.2 671.5,415.1 672.3,412.7 671,410.9 672.3,409.1 671.5,406.7 673.2,405.6 673,402.9 674.8,402.8 675.2,400.2 677,400.9 678,398.7 679.5,400.3 681,398.7 682,400.9 683.8,400.2 684.2,402.8 686,402.9 685.8,405.6 687.5,406.7 686.7,409.1 688,410.9" fill="#fff"/>
<ellipse cx="680.5" cy="410.9" rx="4.4" ry="6.8" stroke-width="1.2" fill="#fff"/>
<ellipse cx="681" cy="410.9" rx="2" ry="3.8" stroke-width="1.2"/>
<ellipse cx="696.8" cy="411.2" rx="6.2" ry="9.7" stroke-width="1.1" fill="#fff"/>
<ellipse cx="697.2" cy="411.2" rx="3.4" ry="6.2"/>
<polygon points="722.3,411.2 722.3,412 722.3,412.8 722.2,413.5 722.1,414.3 722,415.1 720.5,415 720.3,415.6 720.2,416.2 720,416.8 719.9,417.3 719.7,417.9 719.5,418.4 719.3,418.9 719,419.4 719.8,421.8 719.5,422.3 719.2,422.9 718.8,423.3 718.5,423.8 718.1,424.2 717.7,424.6 717.3,424.9 716.9,425.2 716.5,425.5 716.1,425.7 715.3,423.2 715,423.3 714.6,423.4 714.3,423.5 713.9,423.5 713.5,423.5 713.2,423.4 712.8,423.3 712.5,423.2 711.7,425.7 711.3,425.5 710.9,425.2 710.5,424.9 710.1,424.6 709.7,424.2 709.3,423.8 709,423.3 708.6,422.9 708.3,422.3 708,421.8 708.8,419.4 708.5,418.9 708.3,418.4 708.1,417.9 707.9,417.3 707.8,416.8 707.6,416.2 707.5,415.6 707.3,415 705.8,415.1 705.7,414.3 705.6,413.5 705.5,412.8 705.5,412 705.5,411.2 705.5,410.4 705.5,409.6 705.6,408.9 705.7,408.1 705.8,407.3 707.3,407.4 707.5,406.8 707.6,406.2 707.8,405.6 707.9,405.1 708.1,404.5 708.3,404 708.5,403.5 708.8,403 708,400.6 708.3,400.1 708.6,399.5 709,399.1 709.3,398.6 709.7,398.2 710.1,397.8 710.5,397.5 710.9,397.2 711.3,396.9 711.7,396.7 712.5,399.2 712.8,399.1 713.2,399 713.5,398.9 713.9,398.9 714.3,398.9 714.6,399 715,399.1 715.3,399.2 716.1,396.7 716.5,396.9 716.9,397.2 717.3,397.5 717.7,397.8 718.1,398.2 718.5,398.6 718.8,399.1 719.2,399.5 719.5,400.1 719.8,400.6 719,403 719.3,403.5 719.5,404 719.7,404.5 719.9,405.1 720,405.6 720.2,406.2 720.3,406.8 720.5,407.4 722,407.3 722.1,408.1 722.2,408.9 722.3,409.6 722.3,410.4" stroke-width="0.8" fill="#fff"/>
<polygon points="723.9,411.2 723.9,412 723.9,412.8 723.8,413.5 723.7,414.3 723.6,415.1 722.1,415 721.9,415.6 721.8,416.2 721.6,416.8 721.5,417.3 721.3,417.9 721.1,418.4 720.9,418.9 720.6,419.4 721.4,421.8 721.1,422.3 720.8,422.9 720.4,423.3 720.1,423.8 719.7,424.2 719.3,424.6 718.9,424.9 718.5,425.2 718.1,425.5 717.7,425.7 716.9,423.2 716.6,423.3 716.2,423.4 715.9,423.5 715.5,423.5 715.1,423.5 714.8,423.4 714.4,423.3 714.1,423.2 713.3,425.7 712.9,425.5 712.5,425.2 712.1,424.9 711.7,424.6 711.3,424.2 710.9,423.8 710.6,423.3 710.2,422.9 709.9,422.3 709.6,421.8 710.4,419.4 710.1,418.9 709.9,418.4 709.7,417.9 709.5,417.3 709.4,416.8 709.2,416.2 709.1,415.6 708.9,415 707.4,415.1 707.3,414.3 707.2,413.5 707.1,412.8 707.1,412 707.1,411.2 707.1,410.4 707.1,409.6 707.2,408.9 707.3,408.1 707.4,407.3 708.9,407.4 709.1,406.8 709.2,406.2 709.4,405.6 709.5,405.1 709.7,404.5 709.9,404 710.1,403.5 710.4,403 709.6,400.6 709.9,400.1 710.2,399.5 710.6,399.1 710.9,398.6 711.3,398.2 711.7,397.8 712.1,397.5 712.5,397.2 712.9,396.9 713.3,396.7 714.1,399.2 714.4,399.1 714.8,399 715.1,398.9 715.5,398.9 715.9,398.9 716.2,399 716.6,399.1 716.9,399.2 717.7,396.7 718.1,396.9 718.5,397.2 718.9,397.5 719.3,397.8 719.7,398.2 720.1,398.6 720.4,399.1 720.8,399.5 721.1,400.1 721.4,400.6 720.6,403 720.9,403.5 721.1,404 721.3,404.5 721.5,405.1 721.6,405.6 721.8,406.2 721.9,406.8 722.1,407.4 723.6,407.3 723.7,408.1 723.8,408.9 723.9,409.6 723.9,410.4" fill="#fff"/>
<path d="M711.8,411.2 L715.3,404.8 L719.6,407.8 L719.6,414.6 L715.3,417.6 Z" stroke-width="0.9"/>
<path d="M731,405.3 L768,405.3 L768,416.5 L731,416.5 C728.5,415.5 727.5,413.5 727.5,411 C727.5,408.5 728.5,406.3 731,405.3 Z" fill="#fff"/>
<path d="M733,405.5 C731.5,407 731,409 731,411 C731,413 731.5,415 733,416.3" stroke-width="0.8"/>
<path d="M733,409.5 l6,0 M733,413.5 l30,0 M745,408.3 l20,0" stroke-width="0.7"/>
<path d="M735,409.8 l2,6 l1.8,-6" stroke-width="0.9"/>
<path d="M738.6,409.8 l2,6 l1.8,-6" stroke-width="0.9"/>
<path d="M742.2,409.8 l2,6 l1.8,-6" stroke-width="0.9"/>
<path d="M768,403.6 L773.5,403.6 L773.5,418.2 L768,418.2 Z" fill="#fff"/>
<ellipse cx="768" cy="411" rx="2.2" ry="7.3" stroke-width="0.9" fill="#fff"/>
<ellipse cx="773.8" cy="411" rx="2.5" ry="7.3" fill="#fff"/>
<path d="M775.5,406 L779.5,406.5 L779.5,415.3 L775.5,416" stroke-width="0.9" fill="#fff"/>
<ellipse cx="779.7" cy="411" rx="1.5" ry="4.4" stroke-width="0.9" fill="#fff"/>
<path d="M780.5,408.8 L784,409 C785.3,409.8 785.3,412.3 784,413 L780.5,413.3" stroke-width="0.9" fill="#fff"/>
<path d="M791.5,404.5 L796,404.8 C798.3,406 799.3,408.3 799.3,410.5 C799.3,413 798.3,415.3 796,416.3 L791.5,416.5" fill="#fff"/>
<ellipse cx="791.5" cy="410.5" rx="3.4" ry="6" fill="#fff"/>
<ellipse cx="795.8" cy="410.5" rx="2.7" ry="5.2" stroke-width="1.5" fill="#fff"/>
<line x1="795.5" y1="406.5" x2="795.5" y2="414.5" stroke-width="1.2"/>
<rect x="810.6" y="408.4" width="3.6" height="4.4" rx="0.8" stroke-width="0.9" fill="#fff"/>
<path d="M175,401.5 C171,406 168,413 167.3,421 C167,425 167.5,429 168.8,431.5 C175,430 181,425 184.5,418 C187,412 188,405 186.5,400.5 C184,398.5 179,399.5 175,401.5 Z" fill="#fff"/>
<path d="M176.5,403.5 C173,407.5 170.5,413.5 170,420 C169.8,423.5 170,426.5 170.7,428.5 M170.7,428.5 C176,427 180.5,423 183.5,417 M168.8,431.5 L170.7,428.5" stroke-width="0.8"/>
<path d="M174,409 L183,407 L183.5,418 L174.5,421 Z M178.5,408 L179,419.5 M174.2,415 L183.3,412.5" stroke-width="0.8"/>
<path d="M181,399.5 l3.5,2.5 l2,-1.5 M186.5,400.5 l1.5,1.5 l-.5,4" stroke-width="0.9"/>
<path d="M202,408 L207.5,404.8 L212,406.5 L212,420.5 L207.5,422.6 L202,419.5 Z" fill="#fff"/>
<path d="M207.5,404.8 L207.5,422.6 M202,408 L207.5,410 M202,419.5 L207.5,417.5" stroke-width="0.7"/>
<ellipse cx="211.5" cy="413.5" rx="4.2" ry="7.3" fill="#fff"/>
<ellipse cx="212" cy="413.5" rx="2.7" ry="5" stroke-width="1.2" fill="#999"/>
<ellipse cx="212.3" cy="413.5" rx="1.3" ry="3" stroke-width="0.7" fill="#fff"/>
<path d="M229,363.2 C225,365 222.8,369 222.5,374 C222.3,380 226,386.5 231.5,389.5 C237,392 243,392.5 248,392 L260,386 L268,376 L259,367.5 C252,365.5 246,364.3 241.7,364 C237,363.3 232.5,362.5 229,363.2 Z" fill="#fff"/>
<path d="M231.5,378 C234,373 238,371 243,371.3 L257,373 M231.5,378 C232.5,383 236,386.5 241,387.5 L250,388.5" stroke-width="0.8"/>
<path d="M180.5,440.5 C177.5,445 176.5,451 177,456 C177.8,462 181,466.5 186,468.5 C189,469.8 192,470 194.5,469 L206,462 L221.5,459 L220.5,444.5 C210,443 203,441.3 198.4,440.5 C191,439.3 184.5,439 180.5,440.5 Z" fill="#fff"/>
<path d="M184.5,456 C185.5,450.5 189,447.5 194,447.5 L212,449.5 M184.5,456 C184.5,461 187.5,464.5 192,465 L203,461" stroke-width="0.8"/>
<path d="M265.3,375.1 A5.5,5.5 0 0 1 274.7,380.9 L254,419 L229.1,454.2 A5.5,5.5 0 0 1 219.7,448.4 L240.4,410.3 Z" stroke-width="1.1" fill="#fff"/>
<path d="M267,377.5 L243,411.5 M272.6,382.3 L252,418 M250,420.5 L227.5,452 M241.5,413.5 L221.5,447.5" stroke-width="0.7"/>
<ellipse cx="270" cy="378" rx="2.4" ry="3.5" stroke-width="0.9" transform="rotate(25 270 378)"/>
<ellipse cx="224.4" cy="451.3" rx="2.4" ry="3.5" stroke-width="0.9" transform="rotate(25 224.4 451.3)"/>
<path d="M263,385.8 L266,387.7 L256,406 L251.2,403 Z" stroke-width="0.8"/>
<path d="M238.4,423.4 L243.2,426.4 L231.4,443.5 L228.4,441.6 Z" stroke-width="0.8"/>
<path d="M258.3,394.5 l3.6,2.2 M234.6,431.5 l3.6,2.2" stroke-width="0.7"/>
<ellipse cx="245.5" cy="414.2" rx="6.6" ry="9.2" fill="#fff"/>
<ellipse cx="246.5" cy="414.2" rx="4.6" ry="6.8" stroke-width="2" fill="#fff"/>
<ellipse cx="247" cy="414.2" rx="2" ry="3.4" fill="#bbb"/>
<ellipse cx="267.2" cy="413.7" rx="5" ry="8.2" fill="#fff"/>
<ellipse cx="267.6" cy="413.7" rx="2.9" ry="5.3" stroke-width="0.9"/>
<path d="M278.5,391.5 L283.5,389 C286,394 289,400 292,404 L292,424 C288,426.5 283,429 279.5,430.3 L276,426 C278.5,422 281,418.5 283.5,415.5 L283.5,409.5 C281.5,404 279.5,397.5 278.5,391.5 Z" stroke-width="1.1" fill="#fff"/>
<path d="M298.5,387 L305.5,385 C306,390 305.5,396 304.5,400 L299,401.5 Z" stroke-width="1.1" fill="#fff"/>
<path d="M291,431 L301.5,430.5 C301.5,436 301,442 299.5,447.6 L293,446 C292,441 291.3,436 291,431 Z" stroke-width="1.1" fill="#fff"/>
<path d="M281,391 C283,397 286,403 289.5,408 M302.5,386.2 C302.8,391 302.3,396 301.5,400.5 M278,428 C282,425.5 286.5,422.5 290,419.5 M296.5,447 C297.5,441 297.8,436 297.5,431 M283.5,409.5 L287,412.5 L283.5,415.5" stroke-width="0.7"/>
<ellipse cx="296.5" cy="414.6" rx="10.5" ry="16.8" fill="#fff"/>
<ellipse cx="300.4" cy="414.6" rx="10.8" ry="16.6" stroke-width="1.1" fill="#fff"/>
<ellipse cx="301" cy="414.6" rx="8" ry="13"/>
<line x1="301" y1="404.5" x2="306" y2="404.5" stroke-width="0.9"/>
<line x1="301" y1="407.8" x2="307.8" y2="407.8" stroke-width="0.9"/>
<line x1="301" y1="411.1" x2="308.7" y2="411.1" stroke-width="0.9"/>
<line x1="301" y1="414.4" x2="309" y2="414.4" stroke-width="0.9"/>
<line x1="301" y1="417.7" x2="308.8" y2="417.7" stroke-width="0.9"/>
<line x1="301" y1="421" x2="308" y2="421" stroke-width="0.9"/>
<line x1="301" y1="424.3" x2="306.3" y2="424.3" stroke-width="0.9"/>
<ellipse cx="300" cy="414.6" rx="4.2" ry="6.5" fill="#fff"/>
<ellipse cx="300" cy="414.6" rx="2.3" ry="3.8" stroke-width="1.6" fill="#fff"/>
<path d="M311.5,417 l2.5,.5 l.3,2.5 l-2.8,-.2" stroke-width="0.9"/>
<ellipse cx="325.6" cy="414" rx="5.1" ry="8.1" stroke-width="1.1" fill="#fff"/>
<ellipse cx="326" cy="414" rx="2.9" ry="5.1"/>
<ellipse cx="340.4" cy="414" rx="4.7" ry="7.1" stroke-width="1.3" fill="#fff"/>
<ellipse cx="340.8" cy="414" rx="2.6" ry="4.3"/>
<ellipse cx="349.2" cy="414" rx="4.7" ry="7.1" stroke-width="1.3" fill="#fff"/>
<ellipse cx="349.6" cy="414" rx="2.6" ry="4.3"/>
<path d="M357.5,416.5 C359,410 362,405 366,403.5 L371.5,402.5 C373.5,404 374.3,408 374,413 C373.5,418 371,423 366.5,425.5 L365.5,424.3 C369,421.5 371.5,417 371.8,412 C372,408 371.5,405.5 370.3,404.3 C366,405.5 361.5,410.5 359.3,417 Z" stroke-width="0.9" fill="#fff"/>
<path d="M380.5,405 L386,402.3 C389,402 391,403 392.5,405 L392.5,421.5 C390.5,424 388,424.8 385.5,424.3 L380,421 L377,417 L376.2,411 Z" fill="#fff"/>
<ellipse cx="388" cy="413" rx="6.7" ry="11.2" stroke-width="1.1" fill="#fff"/>
<path d="M384.5,413 L388,407.5 L391.5,413 L388,418.3 Z"/>
<path d="M379,418 l1.5,3 l-2,1 M380.5,405 C378,408 377,411 377,413.5" stroke-width="0.8"/>
<ellipse cx="402.2" cy="413" rx="4.2" ry="6.8" stroke-width="1.8" fill="#fff"/>
<ellipse cx="402.6" cy="413" rx="2.8" ry="5.2" stroke-width="0.7"/>
<path d="M414,404.7 L418.5,404.5 M414,421.5 L418.5,421.5"/>
<ellipse cx="414" cy="413" rx="5" ry="8.4" fill="#fff"/>
<ellipse cx="418.5" cy="413" rx="5.3" ry="8.5" stroke-width="1.2" fill="#fff"/>
<ellipse cx="419" cy="413" rx="3.6" ry="6.3" stroke-width="1.6" fill="#fff"/>
<ellipse cx="419.3" cy="413" rx="2" ry="4" stroke-width="0.8"/>
<polyline points="273,191.2 310,191.2" stroke-width="0.75" stroke-dasharray="22 1.6 2.2 1.6"/>
<polyline points="276,163.6 291,163.6" stroke-width="0.75" stroke-dasharray="22 1.6 2.2 1.6"/>
<polyline points="302,163.8 308.5,163.8" stroke-width="0.75" stroke-dasharray="22 1.6 2.2 1.6"/>
<text transform="translate(286 38) scale(.95 1)">55</text>
<polyline points="286.5,40 286.5,59" stroke-width="0.9"/>
<text transform="translate(309.5 38) scale(.95 1)">54</text>
<polyline points="309.5,40 309.5,63" stroke-width="0.9"/>
<text transform="translate(345.5 37.5) scale(.95 1)">50</text>
<polyline points="345.5,39.5 345.5,52" stroke-width="0.9"/>
<text transform="translate(372 21) scale(.95 1)">48</text>
<polyline points="372,23 372,27 381,32" stroke-width="0.9"/>
<text transform="translate(240 94) scale(.95 1)">60</text>
<polyline points="240,96 240,113" stroke-width="0.9"/>
<text transform="translate(281 115.5) scale(.95 1)">55</text>
<polyline points="280,96 280,105" stroke-width="0.9"/>
<text transform="translate(316.5 115.5) scale(.95 1)">53</text>
<polyline points="317,96 317,105" stroke-width="0.9"/>
<text transform="translate(336 116) scale(.95 1)">52</text>
<polyline points="335.5,97 335.5,105" stroke-width="0.9"/>
<text transform="translate(368 115.5) scale(.95 1)">51</text>
<polyline points="357,94 369,101 369,105" stroke-width="0.9"/>
<text transform="translate(387 115.5) scale(.95 1)">47</text>
<polyline points="386.5,87 386.5,105" stroke-width="0.9"/>
<text transform="translate(497 34.5) scale(.95 1)">28</text>
<polyline points="497,36 497,45 505.5,50.5" stroke-width="0.9"/>
<text transform="translate(538 33.7) scale(.95 1)">29</text>
<polyline points="538,35.5 538,45" stroke-width="0.9"/>
<text transform="translate(567.5 33.2) scale(.95 1)">30</text>
<polyline points="567.5,35 567.5,40.5 577,46" stroke-width="0.9"/>
<text transform="translate(153 142.5) scale(.95 1)">65</text>
<polyline points="153,144 153,151" stroke-width="0.9"/>
<text transform="translate(187 142) scale(.95 1)">63</text>
<polyline points="187,144 187,159" stroke-width="0.9"/>
<text transform="translate(172.5 197) scale(.95 1)">64</text>
<polyline points="173,172 173,186" stroke-width="0.9"/>
<text transform="translate(208 197) scale(.95 1)">62</text>
<polyline points="208,170 208,186" stroke-width="0.9"/>
<text transform="translate(232 196.5) scale(.95 1)">61</text>
<polyline points="233,170 233,186" stroke-width="0.9"/>
<text transform="translate(315.5 187) scale(.95 1)">58</text>
<polyline points="314,171 314,176" stroke-width="0.9"/>
<text transform="translate(330.5 187) scale(.95 1)">57</text>
<polyline points="329,168 329,176" stroke-width="0.9"/>
<text transform="translate(350.5 197) scale(.95 1)">56</text>
<polyline points="350.5,171 350.5,186" stroke-width="0.9"/>
<text transform="translate(331.5 134.5) scale(.95 1)">95</text>
<polyline points="321,137 325,134" stroke-width="0.9"/>
<text transform="translate(280.5 242) scale(.95 1)">59</text>
<polyline points="280.7,218.5 280.7,230" stroke-width="0.9"/>
<text transform="translate(425.5 139) scale(.95 1)">45</text>
<polyline points="425.5,141 425.5,154" stroke-width="0.9"/>
<text transform="translate(443.5 139) scale(.95 1)">44</text>
<polyline points="443.5,141 443.5,154" stroke-width="0.9"/>
<text transform="translate(407 196) scale(.95 1)">46</text>
<polyline points="407,178.5 407,185" stroke-width="0.9"/>
<text transform="translate(507.5 120) scale(.95 1)">27</text>
<polyline points="507,122 507,130" stroke-width="0.9"/>
<text transform="translate(538 120) scale(.95 1)">26</text>
<polyline points="538,122 547,154" stroke-width="0.9"/>
<text transform="translate(561 120) scale(.95 1)">25</text>
<polyline points="561,122 561,135 553,141" stroke-width="0.9"/>
<text transform="translate(597 118) scale(.95 1)">24</text>
<polyline points="597,120 597,139" stroke-width="0.9"/>
<text transform="translate(621.5 136.5) scale(.95 1)">23</text>
<polyline points="621.5,138 621.5,156" stroke-width="0.9"/>
<text transform="translate(636.5 117.5) scale(.95 1)">21</text>
<polyline points="636.5,119 636.5,148" stroke-width="0.9"/>
<text transform="translate(655 116.5) scale(.95 1)">22</text>
<polyline points="655,118 655,124" stroke-width="0.9"/>
<text transform="translate(672.5 136) scale(.95 1)">19</text>
<polyline points="672.5,138 672.5,156" stroke-width="0.9"/>
<text transform="translate(701.5 135) scale(.95 1)">17</text>
<polyline points="701.5,137 701.5,149 696,156" stroke-width="0.9"/>
<text transform="translate(727 135.5) scale(.95 1)">15</text>
<polyline points="727,137 727,156" stroke-width="0.9"/>
<text transform="translate(751.5 135) scale(.95 1)">13</text>
<polyline points="751.5,137 751.5,156" stroke-width="0.9"/>
<text transform="translate(769.5 118.5) scale(.95 1)">12</text>
<polyline points="769.5,120 769.5,141" stroke-width="0.9"/>
<text transform="translate(799 118.5) scale(.95 1)">10</text>
<polyline points="799,120 799,142" stroke-width="0.9"/>
<text transform="translate(830 118) scale(.95 1)">9</text>
<polyline points="830,120 830,133" stroke-width="0.9"/>
<text transform="translate(874 118) scale(.95 1)">1</text>
<polyline points="874,120 874,129" stroke-width="0.9"/>
<text transform="translate(660 192) scale(.95 1)">20</text>
<polyline points="660,167 660,181" stroke-width="0.9"/>
<text transform="translate(682.5 192) scale(.95 1)">18</text>
<polyline points="682.5,166 682.5,181" stroke-width="0.9"/>
<text transform="translate(711 192) scale(.95 1)">16</text>
<polyline points="711,168 711,181" stroke-width="0.9"/>
<text transform="translate(740 191.5) scale(.95 1)">14</text>
<polyline points="740,166 740,181" stroke-width="0.9"/>
<text transform="translate(778 192) scale(.95 1)">11</text>
<polyline points="778,165 778,181" stroke-width="0.9"/>
<text transform="translate(617.5 222) scale(.95 1)">22</text>
<polyline points="617.5,203.7 617.5,212" stroke-width="0.9"/>
<text transform="translate(843 220.5) scale(.95 1)">8</text>
<polyline points="843,200 843,210" stroke-width="0.9"/>
<text transform="translate(723.5 300) scale(.95 1)">7</text>
<polyline points="723.7,275 723.7,290" stroke-width="0.9"/>
<text transform="translate(741 300) scale(.95 1)">6</text>
<polyline points="741,268 741,290" stroke-width="0.9"/>
<text transform="translate(753.5 289) scale(.95 1)">5</text>
<polyline points="753,267.5 753,279" stroke-width="0.9"/>
<text transform="translate(777.5 300) scale(.95 1)">4</text>
<polyline points="777.5,277.5 777.5,290" stroke-width="0.9"/>
<text transform="translate(799 299.5) scale(.95 1)">3</text>
<polyline points="799,269.5 799,289" stroke-width="0.9"/>
<text transform="translate(820 300) scale(.95 1)">2</text>
<polyline points="820.5,269 820.5,290" stroke-width="0.9"/>
<text transform="translate(495.5 237) scale(.95 1)">35</text>
<polyline points="495.5,238.5 495.5,246" stroke-width="0.9"/>
<text transform="translate(395.5 284.5) scale(.95 1)">41</text>
<polyline points="395.5,258 395.5,274" stroke-width="0.9"/>
<text transform="translate(430 284.5) scale(.95 1)">40</text>
<polyline points="430.5,259 430.5,274" stroke-width="0.9"/>
<text transform="translate(451 284.5) scale(.95 1)">39</text>
<polyline points="450.7,260 450.7,274" stroke-width="0.9"/>
<text transform="translate(481 289.5) scale(.95 1)">36</text>
<polyline points="488,285.5 505,285.5" stroke-width="0.9"/>
<text transform="translate(485 303) scale(.95 1)">37</text>
<polyline points="492.5,298.5 510,298.5" stroke-width="0.9"/>
<text transform="translate(491 318) scale(.95 1)">38</text>
<polyline points="498,313.7 513,313.7" stroke-width="0.9"/>
<text transform="translate(582 284) scale(.95 1)">34</text>
<polyline points="582,261.5 582,273" stroke-width="0.9"/>
<text transform="translate(607 284) scale(.95 1)">33</text>
<polyline points="606.7,259.5 606.7,273" stroke-width="0.9"/>
<text transform="translate(628.5 284) scale(.95 1)">32</text>
<polyline points="628.7,261.5 628.7,273" stroke-width="0.9"/>
<text transform="translate(647.5 284) scale(.95 1)">31</text>
<polyline points="647.5,258 647.5,273" stroke-width="0.9"/>
<text transform="translate(482 339.5) scale(.95 1)">43</text>
<polyline points="491,335.5 502.5,335.5" stroke-width="0.9"/>
<text transform="translate(614 328) scale(.95 1)">42</text>
<polyline points="613.7,329.5 613.7,339" stroke-width="0.9"/>
<text transform="translate(678 329) scale(.95 1)">72</text>
<polyline points="678,331 678,351 685,355 686.5,365" stroke-width="0.9"/>
<text transform="translate(699 341) scale(.95 1)">71</text>
<polyline points="700.7,343 700.7,363" stroke-width="0.9"/>
<text transform="translate(720.5 329.5) scale(.95 1)">70</text>
<polyline points="720,331 720,347" stroke-width="0.9"/>
<text transform="translate(750 329) scale(.95 1)">69</text>
<polyline points="749.5,331 749.5,337" stroke-width="0.9"/>
<text transform="translate(652 456) scale(.95 1)">76</text>
<polyline points="651.7,436 651.7,445.5" stroke-width="0.9"/>
<text transform="translate(679 441) scale(.95 1)">75</text>
<polyline points="678.7,424 678.7,431" stroke-width="0.9"/>
<text transform="translate(696.5 441) scale(.95 1)">74</text>
<polyline points="697,421 697,431" stroke-width="0.9"/>
<text transform="translate(718 455) scale(.95 1)">73</text>
<polyline points="716.7,427 716.7,444" stroke-width="0.9"/>
<text transform="translate(756 441.5) scale(.95 1)">68</text>
<polyline points="756,417.5 756,431" stroke-width="0.9"/>
<text transform="translate(792 442) scale(.95 1)">67</text>
<polyline points="792,417 792,431" stroke-width="0.9"/>
<text transform="translate(812 442) scale(.95 1)">66</text>
<polyline points="812.5,413.5 812.5,431.5" stroke-width="0.9"/>
<text transform="translate(599 365.5) scale(.95 1)">78</text>
<polyline points="598.7,367 598.7,376" stroke-width="0.9"/>
<polyline points="587,394.5 587,376 612.5,376 612.5,394.5" stroke-width="0.9"/>
<text transform="translate(599 388) scale(.95 1)">79</text>
<polyline points="598.7,389.5 598.7,395" stroke-width="0.9"/>
<text transform="translate(493 444) scale(.95 1)">83</text>
<polyline points="492.5,422.5 492.5,434" stroke-width="0.9"/>
<text transform="translate(518.5 444) scale(.95 1)">82</text>
<polyline points="518,420 518,434" stroke-width="0.9"/>
<text transform="translate(538 457) scale(.95 1)">81</text>
<polyline points="538.7,429 538.7,447" stroke-width="0.9"/>
<text transform="translate(560 457.5) scale(.95 1)">80</text>
<polyline points="560,427.5 560,447" stroke-width="0.9"/>
<text transform="translate(598.5 456.5) scale(.95 1)">77</text>
<polyline points="598.7,438.7 598.7,446" stroke-width="0.9"/>
<polyline points="573.7,428 573.7,438.7 625,438.7 625,428" stroke-width="0.9"/>
<text transform="translate(240.5 348) scale(.95 1)">92</text>
<polyline points="240.7,349.5 240.7,363" stroke-width="0.9"/>
<text transform="translate(170.5 386) scale(.95 1)">94</text>
<path d="M170,388 C170,394 172,397 175,401" stroke-width="0.9"/>
<text transform="translate(207 386.5) scale(.95 1)">93</text>
<polyline points="207,388 207,405.5" stroke-width="0.9"/>
<text transform="translate(265.5 444.5) scale(.95 1)">91</text>
<polyline points="267,423 267,434" stroke-width="0.9"/>
<text transform="translate(284 456.5) scale(.95 1)">90</text>
<polyline points="282.5,430 282.5,446" stroke-width="0.9"/>
<text transform="translate(325.5 444.5) scale(.95 1)">89</text>
<polyline points="325,423 325,434" stroke-width="0.9"/>
<text transform="translate(345 444.5) scale(.95 1)">88</text>
<polyline points="345,427.5 345,434" stroke-width="0.9"/>
<polyline points="342,421 342,427.5 348.7,427.5 348.7,421" stroke-width="0.9"/>
<text transform="translate(366 456.5) scale(.95 1)">87</text>
<polyline points="366,426 366,446" stroke-width="0.9"/>
<text transform="translate(387 456.5) scale(.95 1)">86</text>
<polyline points="386,425 386,446" stroke-width="0.9"/>
<text transform="translate(402 444) scale(.95 1)">85</text>
<polyline points="401.7,421.5 401.7,434" stroke-width="0.9"/>
<text transform="translate(418 457) scale(.95 1)">84</text>
<polyline points="418,423 418,446" stroke-width="0.9"/>
</svg></body></html>
